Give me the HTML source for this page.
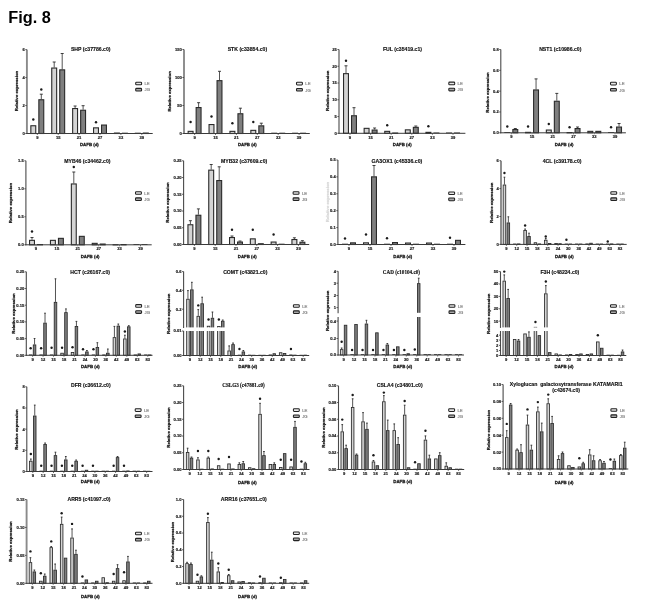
<!DOCTYPE html>
<html><head><meta charset="utf-8"><style>
html,body{margin:0;padding:0;background:#fff;}
body{width:658px;height:606px;overflow:hidden;position:relative;}
svg{position:absolute;left:0;top:0;}

</style></head><body>
<svg width="658" height="606" viewBox="0 0 658 606" style='filter:grayscale(1);font-family:"Liberation Sans", sans-serif'>
<rect width="658" height="606" fill="#fff"/>
<text x="8.3" y="23" font-size="16.3" font-weight="bold" fill="#000">Fig. 8</text>
<rect x="30.85" y="125.75" width="4.9" height="7.75" fill="#d4d4d4" stroke="#2a2a2a" stroke-width="1.1"/>
<line x1="41.3" y1="99.2" x2="41.3" y2="94.2" stroke="#2a2a2a" stroke-width="0.8"/>
<line x1="39.8" y1="94.2" x2="42.8" y2="94.2" stroke="#2a2a2a" stroke-width="0.9"/>
<rect x="38.85" y="99.75" width="4.9" height="33.75" fill="#7f7f7f" stroke="#2a2a2a" stroke-width="1.1"/>
<line x1="54.2" y1="67.5" x2="54.2" y2="62" stroke="#2a2a2a" stroke-width="0.8"/>
<line x1="52.7" y1="62" x2="55.7" y2="62" stroke="#2a2a2a" stroke-width="0.9"/>
<rect x="51.75" y="68.05" width="4.9" height="65.45" fill="#d4d4d4" stroke="#2a2a2a" stroke-width="1.1"/>
<line x1="62.2" y1="69.3" x2="62.2" y2="53.5" stroke="#2a2a2a" stroke-width="0.8"/>
<line x1="60.7" y1="53.5" x2="63.7" y2="53.5" stroke="#2a2a2a" stroke-width="0.9"/>
<rect x="59.75" y="69.85" width="4.9" height="63.65" fill="#7f7f7f" stroke="#2a2a2a" stroke-width="1.1"/>
<line x1="75.1" y1="108" x2="75.1" y2="106" stroke="#2a2a2a" stroke-width="0.8"/>
<line x1="73.6" y1="106" x2="76.6" y2="106" stroke="#2a2a2a" stroke-width="0.9"/>
<rect x="72.65" y="108.55" width="4.9" height="24.95" fill="#d4d4d4" stroke="#2a2a2a" stroke-width="1.1"/>
<line x1="83.1" y1="109.7" x2="83.1" y2="105.7" stroke="#2a2a2a" stroke-width="0.8"/>
<line x1="81.6" y1="105.7" x2="84.6" y2="105.7" stroke="#2a2a2a" stroke-width="0.9"/>
<rect x="80.65" y="110.25" width="4.9" height="23.25" fill="#7f7f7f" stroke="#2a2a2a" stroke-width="1.1"/>
<rect x="93.55" y="127.85" width="4.9" height="5.65" fill="#d4d4d4" stroke="#2a2a2a" stroke-width="1.1"/>
<rect x="101.55" y="125.05" width="4.9" height="8.45" fill="#7f7f7f" stroke="#2a2a2a" stroke-width="1.1"/>
<rect x="114.45" y="133.05" width="4.9" height="0.45" fill="#d4d4d4" stroke="#2a2a2a" stroke-width="1.1"/>
<rect x="121.9" y="132.7" width="6" height="0.8" fill="#2a2a2a"/>
<rect x="134.8" y="132.7" width="6" height="0.8" fill="#2a2a2a"/>
<rect x="143.35" y="133.05" width="4.9" height="0.45" fill="#7f7f7f" stroke="#2a2a2a" stroke-width="1.1"/>
<circle cx="33.3" cy="119.5" r="1.2" fill="#1a1a1a"/>
<circle cx="41.3" cy="89.5" r="1.2" fill="#1a1a1a"/>
<circle cx="96" cy="122.3" r="1.2" fill="#1a1a1a"/>
<line x1="26.9" y1="49.6" x2="26.9" y2="134" stroke="#8a8a8a" stroke-width="1.9"/>
<line x1="26.4" y1="133.5" x2="152.7" y2="133.5" stroke="#3a3a3a" stroke-width="1"/>
<line x1="25.3" y1="49.6" x2="26.9" y2="49.6" stroke="#3a3a3a" stroke-width="0.8"/>
<text x="24.8" y="51.05" text-anchor="end" font-size="4.1" font-weight="bold" fill="#222" stroke="#222" stroke-width="0.18">6</text>
<line x1="25.3" y1="77.57" x2="26.9" y2="77.57" stroke="#3a3a3a" stroke-width="0.8"/>
<text x="24.8" y="79.02" text-anchor="end" font-size="4.1" font-weight="bold" fill="#222" stroke="#222" stroke-width="0.18">4</text>
<line x1="25.3" y1="105.53" x2="26.9" y2="105.53" stroke="#3a3a3a" stroke-width="0.8"/>
<text x="24.8" y="106.98" text-anchor="end" font-size="4.1" font-weight="bold" fill="#222" stroke="#222" stroke-width="0.18">2</text>
<line x1="25.3" y1="133.5" x2="26.9" y2="133.5" stroke="#3a3a3a" stroke-width="0.8"/>
<text x="24.8" y="134.95" text-anchor="end" font-size="4.1" font-weight="bold" fill="#222" stroke="#222" stroke-width="0.18">0</text>
<line x1="37.3" y1="133.5" x2="37.3" y2="135" stroke="#3a3a3a" stroke-width="0.7"/>
<text x="37.3" y="139.1" text-anchor="middle" font-size="4.1" font-weight="bold" fill="#222" stroke="#222" stroke-width="0.18">9</text>
<line x1="58.2" y1="133.5" x2="58.2" y2="135" stroke="#3a3a3a" stroke-width="0.7"/>
<text x="58.2" y="139.1" text-anchor="middle" font-size="4.1" font-weight="bold" fill="#222" stroke="#222" stroke-width="0.18">15</text>
<line x1="79.1" y1="133.5" x2="79.1" y2="135" stroke="#3a3a3a" stroke-width="0.7"/>
<text x="79.1" y="139.1" text-anchor="middle" font-size="4.1" font-weight="bold" fill="#222" stroke="#222" stroke-width="0.18">21</text>
<line x1="100" y1="133.5" x2="100" y2="135" stroke="#3a3a3a" stroke-width="0.7"/>
<text x="100" y="139.1" text-anchor="middle" font-size="4.1" font-weight="bold" fill="#222" stroke="#222" stroke-width="0.18">27</text>
<line x1="120.9" y1="133.5" x2="120.9" y2="135" stroke="#3a3a3a" stroke-width="0.7"/>
<text x="120.9" y="139.1" text-anchor="middle" font-size="4.1" font-weight="bold" fill="#222" stroke="#222" stroke-width="0.18">33</text>
<line x1="141.8" y1="133.5" x2="141.8" y2="135" stroke="#3a3a3a" stroke-width="0.7"/>
<text x="141.8" y="139.1" text-anchor="middle" font-size="4.1" font-weight="bold" fill="#222" stroke="#222" stroke-width="0.18">39</text>
<text x="90.7" y="51.2" text-anchor="middle" style='font-family:"Liberation Sans", sans-serif;white-space:pre' font-size="5.15" font-weight="bold" fill="#111" stroke="#111" stroke-width="0.14">SHP (c37786.c0)</text>
<rect x="135.7" y="82.2" width="5.9" height="2.6" rx="0.8" fill="#e6e6e6" stroke="#222" stroke-width="1.05"/>
<text x="144.5" y="85.3" font-size="4.25" fill="#8c8c8c" stroke="#8c8c8c" stroke-width="0.2">LE</text>
<rect x="135.7" y="88.35" width="5.9" height="2.6" rx="0.8" fill="#a8a8a8" stroke="#222" stroke-width="1.05"/>
<text x="144.5" y="91.45" font-size="4.25" fill="#8c8c8c" stroke="#8c8c8c" stroke-width="0.2">JG</text>
<text x="0" y="0" transform="translate(18.1,91) rotate(-90)" text-anchor="middle" font-size="4.3" font-weight="bold" fill="#1a1a1a" stroke="#1a1a1a" stroke-width="0.26">Relative expression</text>
<text x="89.4" y="145.8" text-anchor="middle" font-size="4.35" font-weight="bold" fill="#1a1a1a" stroke="#1a1a1a" stroke-width="0.26">DAFB (d)</text>
<rect x="188.15" y="131.35" width="4.9" height="2.15" fill="#d4d4d4" stroke="#2a2a2a" stroke-width="1.1"/>
<line x1="198.6" y1="107" x2="198.6" y2="102.7" stroke="#2a2a2a" stroke-width="0.8"/>
<line x1="197.1" y1="102.7" x2="200.1" y2="102.7" stroke="#2a2a2a" stroke-width="0.9"/>
<rect x="196.15" y="107.55" width="4.9" height="25.95" fill="#7f7f7f" stroke="#2a2a2a" stroke-width="1.1"/>
<rect x="209.05" y="124.55" width="4.9" height="8.95" fill="#d4d4d4" stroke="#2a2a2a" stroke-width="1.1"/>
<line x1="219.5" y1="80.1" x2="219.5" y2="71.3" stroke="#2a2a2a" stroke-width="0.8"/>
<line x1="218" y1="71.3" x2="221" y2="71.3" stroke="#2a2a2a" stroke-width="0.9"/>
<rect x="217.05" y="80.65" width="4.9" height="52.85" fill="#7f7f7f" stroke="#2a2a2a" stroke-width="1.1"/>
<rect x="229.95" y="131.35" width="4.9" height="2.15" fill="#d4d4d4" stroke="#2a2a2a" stroke-width="1.1"/>
<line x1="240.4" y1="113.2" x2="240.4" y2="108.2" stroke="#2a2a2a" stroke-width="0.8"/>
<line x1="238.9" y1="108.2" x2="241.9" y2="108.2" stroke="#2a2a2a" stroke-width="0.9"/>
<rect x="237.95" y="113.75" width="4.9" height="19.75" fill="#7f7f7f" stroke="#2a2a2a" stroke-width="1.1"/>
<rect x="250.85" y="130.35" width="4.9" height="3.15" fill="#d4d4d4" stroke="#2a2a2a" stroke-width="1.1"/>
<line x1="261.3" y1="125.3" x2="261.3" y2="123.2" stroke="#2a2a2a" stroke-width="0.8"/>
<line x1="259.8" y1="123.2" x2="262.8" y2="123.2" stroke="#2a2a2a" stroke-width="0.9"/>
<rect x="258.85" y="125.85" width="4.9" height="7.65" fill="#7f7f7f" stroke="#2a2a2a" stroke-width="1.1"/>
<rect x="271.2" y="132.7" width="6" height="0.8" fill="#2a2a2a"/>
<rect x="279.2" y="132.7" width="6" height="0.8" fill="#2a2a2a"/>
<rect x="292.1" y="132.7" width="6" height="0.8" fill="#2a2a2a"/>
<rect x="300.1" y="132.7" width="6" height="0.8" fill="#2a2a2a"/>
<circle cx="190.6" cy="122" r="1.2" fill="#1a1a1a"/>
<circle cx="211.5" cy="116.5" r="1.2" fill="#1a1a1a"/>
<circle cx="232.4" cy="123.2" r="1.2" fill="#1a1a1a"/>
<circle cx="253.3" cy="122" r="1.2" fill="#1a1a1a"/>
<line x1="184" y1="49.5" x2="184" y2="134" stroke="#8a8a8a" stroke-width="1.9"/>
<line x1="183.5" y1="133.5" x2="309.8" y2="133.5" stroke="#3a3a3a" stroke-width="1"/>
<line x1="182.4" y1="49.5" x2="184" y2="49.5" stroke="#3a3a3a" stroke-width="0.8"/>
<text x="181.9" y="50.95" text-anchor="end" font-size="4.1" font-weight="bold" fill="#222" stroke="#222" stroke-width="0.18">150</text>
<line x1="182.4" y1="77.5" x2="184" y2="77.5" stroke="#3a3a3a" stroke-width="0.8"/>
<text x="181.9" y="78.95" text-anchor="end" font-size="4.1" font-weight="bold" fill="#222" stroke="#222" stroke-width="0.18">100</text>
<line x1="182.4" y1="105.5" x2="184" y2="105.5" stroke="#3a3a3a" stroke-width="0.8"/>
<text x="181.9" y="106.95" text-anchor="end" font-size="4.1" font-weight="bold" fill="#222" stroke="#222" stroke-width="0.18">50</text>
<line x1="182.4" y1="133.5" x2="184" y2="133.5" stroke="#3a3a3a" stroke-width="0.8"/>
<text x="181.9" y="134.95" text-anchor="end" font-size="4.1" font-weight="bold" fill="#222" stroke="#222" stroke-width="0.18">0</text>
<line x1="194.6" y1="133.5" x2="194.6" y2="135" stroke="#3a3a3a" stroke-width="0.7"/>
<text x="194.6" y="139.1" text-anchor="middle" font-size="4.1" font-weight="bold" fill="#222" stroke="#222" stroke-width="0.18">9</text>
<line x1="215.5" y1="133.5" x2="215.5" y2="135" stroke="#3a3a3a" stroke-width="0.7"/>
<text x="215.5" y="139.1" text-anchor="middle" font-size="4.1" font-weight="bold" fill="#222" stroke="#222" stroke-width="0.18">15</text>
<line x1="236.4" y1="133.5" x2="236.4" y2="135" stroke="#3a3a3a" stroke-width="0.7"/>
<text x="236.4" y="139.1" text-anchor="middle" font-size="4.1" font-weight="bold" fill="#222" stroke="#222" stroke-width="0.18">21</text>
<line x1="257.3" y1="133.5" x2="257.3" y2="135" stroke="#3a3a3a" stroke-width="0.7"/>
<text x="257.3" y="139.1" text-anchor="middle" font-size="4.1" font-weight="bold" fill="#222" stroke="#222" stroke-width="0.18">27</text>
<line x1="278.2" y1="133.5" x2="278.2" y2="135" stroke="#3a3a3a" stroke-width="0.7"/>
<text x="278.2" y="139.1" text-anchor="middle" font-size="4.1" font-weight="bold" fill="#222" stroke="#222" stroke-width="0.18">33</text>
<line x1="299.1" y1="133.5" x2="299.1" y2="135" stroke="#3a3a3a" stroke-width="0.7"/>
<text x="299.1" y="139.1" text-anchor="middle" font-size="4.1" font-weight="bold" fill="#222" stroke="#222" stroke-width="0.18">39</text>
<text x="247.4" y="51.2" text-anchor="middle" style='font-family:"Liberation Sans", sans-serif;white-space:pre' font-size="5.15" font-weight="bold" fill="#111" stroke="#111" stroke-width="0.14">STK (c33854.c0)</text>
<rect x="296.5" y="82.3" width="5.9" height="2.6" rx="0.8" fill="#e6e6e6" stroke="#222" stroke-width="1.05"/>
<text x="305.3" y="85.4" font-size="4.25" fill="#8c8c8c" stroke="#8c8c8c" stroke-width="0.2">LE</text>
<rect x="296.5" y="88.45" width="5.9" height="2.6" rx="0.8" fill="#a8a8a8" stroke="#222" stroke-width="1.05"/>
<text x="305.3" y="91.55" font-size="4.25" fill="#8c8c8c" stroke="#8c8c8c" stroke-width="0.2">JG</text>
<text x="0" y="0" transform="translate(170.6,91.4) rotate(-90)" text-anchor="middle" font-size="4.3" font-weight="bold" fill="#1a1a1a" stroke="#1a1a1a" stroke-width="0.26">Relative expression</text>
<text x="247.3" y="145.8" text-anchor="middle" font-size="4.35" font-weight="bold" fill="#1a1a1a" stroke="#1a1a1a" stroke-width="0.26">DAFB (d)</text>
<line x1="346" y1="73.1" x2="346" y2="65.8" stroke="#2a2a2a" stroke-width="0.8"/>
<line x1="344.5" y1="65.8" x2="347.5" y2="65.8" stroke="#2a2a2a" stroke-width="0.9"/>
<rect x="343.55" y="73.65" width="4.9" height="59.65" fill="#d4d4d4" stroke="#2a2a2a" stroke-width="1.1"/>
<line x1="354" y1="115.2" x2="354" y2="107.7" stroke="#2a2a2a" stroke-width="0.8"/>
<line x1="352.5" y1="107.7" x2="355.5" y2="107.7" stroke="#2a2a2a" stroke-width="0.9"/>
<rect x="351.55" y="115.75" width="4.9" height="17.55" fill="#7f7f7f" stroke="#2a2a2a" stroke-width="1.1"/>
<rect x="364.15" y="128.35" width="4.9" height="4.95" fill="#d4d4d4" stroke="#2a2a2a" stroke-width="1.1"/>
<line x1="374.6" y1="129.5" x2="374.6" y2="128" stroke="#2a2a2a" stroke-width="0.8"/>
<line x1="373.1" y1="128" x2="376.1" y2="128" stroke="#2a2a2a" stroke-width="0.9"/>
<rect x="372.15" y="130.05" width="4.9" height="3.25" fill="#7f7f7f" stroke="#2a2a2a" stroke-width="1.1"/>
<rect x="384.75" y="131.35" width="4.9" height="1.95" fill="#d4d4d4" stroke="#2a2a2a" stroke-width="1.1"/>
<rect x="392.75" y="133.05" width="4.9" height="0.25" fill="#7f7f7f" stroke="#2a2a2a" stroke-width="1.1"/>
<rect x="405.35" y="129.85" width="4.9" height="3.45" fill="#d4d4d4" stroke="#2a2a2a" stroke-width="1.1"/>
<line x1="415.8" y1="126.8" x2="415.8" y2="126" stroke="#2a2a2a" stroke-width="0.8"/>
<line x1="414.3" y1="126" x2="417.3" y2="126" stroke="#2a2a2a" stroke-width="0.9"/>
<rect x="413.35" y="127.35" width="4.9" height="5.95" fill="#7f7f7f" stroke="#2a2a2a" stroke-width="1.1"/>
<rect x="425.95" y="132.35" width="4.9" height="0.95" fill="#d4d4d4" stroke="#2a2a2a" stroke-width="1.1"/>
<rect x="433.4" y="132.5" width="6" height="0.8" fill="#2a2a2a"/>
<rect x="446" y="132.5" width="6" height="0.8" fill="#2a2a2a"/>
<rect x="454" y="132.5" width="6" height="0.8" fill="#2a2a2a"/>
<circle cx="346" cy="60.8" r="1.2" fill="#1a1a1a"/>
<circle cx="387.2" cy="125.3" r="1.2" fill="#1a1a1a"/>
<circle cx="428.4" cy="126.3" r="1.2" fill="#1a1a1a"/>
<line x1="339" y1="49.5" x2="339" y2="133.8" stroke="#4a4a4a" stroke-width="1.1"/>
<line x1="338.5" y1="133.3" x2="465.4" y2="133.3" stroke="#3a3a3a" stroke-width="1"/>
<line x1="337.4" y1="49.5" x2="339" y2="49.5" stroke="#3a3a3a" stroke-width="0.8"/>
<text x="336.9" y="50.95" text-anchor="end" font-size="4.1" font-weight="bold" fill="#222" stroke="#222" stroke-width="0.18">25</text>
<line x1="337.4" y1="66.26" x2="339" y2="66.26" stroke="#3a3a3a" stroke-width="0.8"/>
<text x="336.9" y="67.71" text-anchor="end" font-size="4.1" font-weight="bold" fill="#222" stroke="#222" stroke-width="0.18">20</text>
<line x1="337.4" y1="83.02" x2="339" y2="83.02" stroke="#3a3a3a" stroke-width="0.8"/>
<text x="336.9" y="84.47" text-anchor="end" font-size="4.1" font-weight="bold" fill="#222" stroke="#222" stroke-width="0.18">15</text>
<line x1="337.4" y1="99.78" x2="339" y2="99.78" stroke="#3a3a3a" stroke-width="0.8"/>
<text x="336.9" y="101.23" text-anchor="end" font-size="4.1" font-weight="bold" fill="#222" stroke="#222" stroke-width="0.18">10</text>
<line x1="337.4" y1="116.54" x2="339" y2="116.54" stroke="#3a3a3a" stroke-width="0.8"/>
<text x="336.9" y="117.99" text-anchor="end" font-size="4.1" font-weight="bold" fill="#222" stroke="#222" stroke-width="0.18">5</text>
<line x1="337.4" y1="133.3" x2="339" y2="133.3" stroke="#3a3a3a" stroke-width="0.8"/>
<text x="336.9" y="134.75" text-anchor="end" font-size="4.1" font-weight="bold" fill="#222" stroke="#222" stroke-width="0.18">0</text>
<line x1="350" y1="133.3" x2="350" y2="134.8" stroke="#3a3a3a" stroke-width="0.7"/>
<text x="350" y="138.9" text-anchor="middle" font-size="4.1" font-weight="bold" fill="#222" stroke="#222" stroke-width="0.18">9</text>
<line x1="370.6" y1="133.3" x2="370.6" y2="134.8" stroke="#3a3a3a" stroke-width="0.7"/>
<text x="370.6" y="138.9" text-anchor="middle" font-size="4.1" font-weight="bold" fill="#222" stroke="#222" stroke-width="0.18">15</text>
<line x1="391.2" y1="133.3" x2="391.2" y2="134.8" stroke="#3a3a3a" stroke-width="0.7"/>
<text x="391.2" y="138.9" text-anchor="middle" font-size="4.1" font-weight="bold" fill="#222" stroke="#222" stroke-width="0.18">21</text>
<line x1="411.8" y1="133.3" x2="411.8" y2="134.8" stroke="#3a3a3a" stroke-width="0.7"/>
<text x="411.8" y="138.9" text-anchor="middle" font-size="4.1" font-weight="bold" fill="#222" stroke="#222" stroke-width="0.18">27</text>
<line x1="432.4" y1="133.3" x2="432.4" y2="134.8" stroke="#3a3a3a" stroke-width="0.7"/>
<text x="432.4" y="138.9" text-anchor="middle" font-size="4.1" font-weight="bold" fill="#222" stroke="#222" stroke-width="0.18">33</text>
<line x1="453" y1="133.3" x2="453" y2="134.8" stroke="#3a3a3a" stroke-width="0.7"/>
<text x="453" y="138.9" text-anchor="middle" font-size="4.1" font-weight="bold" fill="#222" stroke="#222" stroke-width="0.18">39</text>
<text x="402.5" y="51.2" text-anchor="middle" style='font-family:"Liberation Sans", sans-serif;white-space:pre' font-size="5.15" font-weight="bold" fill="#111" stroke="#111" stroke-width="0.14">FUL (c35419.c1)</text>
<rect x="448.8" y="82.1" width="5.9" height="2.6" rx="0.8" fill="#e6e6e6" stroke="#222" stroke-width="1.05"/>
<text x="457.6" y="85.2" font-size="4.25" fill="#8c8c8c" stroke="#8c8c8c" stroke-width="0.2">LE</text>
<rect x="448.8" y="88.25" width="5.9" height="2.6" rx="0.8" fill="#a8a8a8" stroke="#222" stroke-width="1.05"/>
<text x="457.6" y="91.35" font-size="4.25" fill="#8c8c8c" stroke="#8c8c8c" stroke-width="0.2">JG</text>
<text x="0" y="0" transform="translate(328.8,90.7) rotate(-90)" text-anchor="middle" font-size="4.3" font-weight="bold" fill="#1a1a1a" stroke="#1a1a1a" stroke-width="0.26">Relative expression</text>
<text x="402.2" y="145.8" text-anchor="middle" font-size="4.35" font-weight="bold" fill="#1a1a1a" stroke="#1a1a1a" stroke-width="0.26">DAFB (d)</text>
<rect x="504.3" y="132" width="6" height="0.8" fill="#2a2a2a"/>
<line x1="515.3" y1="129" x2="515.3" y2="128.5" stroke="#2a2a2a" stroke-width="0.8"/>
<line x1="513.8" y1="128.5" x2="516.8" y2="128.5" stroke="#2a2a2a" stroke-width="0.9"/>
<rect x="512.85" y="129.55" width="4.9" height="3.25" fill="#7f7f7f" stroke="#2a2a2a" stroke-width="1.1"/>
<rect x="525.6" y="132.35" width="4.9" height="0.45" fill="#d4d4d4" stroke="#2a2a2a" stroke-width="1.1"/>
<line x1="536.05" y1="89.4" x2="536.05" y2="78.9" stroke="#2a2a2a" stroke-width="0.8"/>
<line x1="534.55" y1="78.9" x2="537.55" y2="78.9" stroke="#2a2a2a" stroke-width="0.9"/>
<rect x="533.6" y="89.95" width="4.9" height="42.85" fill="#7f7f7f" stroke="#2a2a2a" stroke-width="1.1"/>
<rect x="546.35" y="130.05" width="4.9" height="2.75" fill="#d4d4d4" stroke="#2a2a2a" stroke-width="1.1"/>
<line x1="556.8" y1="100.7" x2="556.8" y2="93.4" stroke="#2a2a2a" stroke-width="0.8"/>
<line x1="555.3" y1="93.4" x2="558.3" y2="93.4" stroke="#2a2a2a" stroke-width="0.9"/>
<rect x="554.35" y="101.25" width="4.9" height="31.55" fill="#7f7f7f" stroke="#2a2a2a" stroke-width="1.1"/>
<rect x="567.1" y="132.55" width="4.9" height="0.25" fill="#d4d4d4" stroke="#2a2a2a" stroke-width="1.1"/>
<line x1="577.55" y1="128" x2="577.55" y2="127" stroke="#2a2a2a" stroke-width="0.8"/>
<line x1="576.05" y1="127" x2="579.05" y2="127" stroke="#2a2a2a" stroke-width="0.9"/>
<rect x="575.1" y="128.55" width="4.9" height="4.25" fill="#7f7f7f" stroke="#2a2a2a" stroke-width="1.1"/>
<rect x="587.85" y="131.35" width="4.9" height="1.45" fill="#d4d4d4" stroke="#2a2a2a" stroke-width="1.1"/>
<rect x="595.85" y="131.35" width="4.9" height="1.45" fill="#7f7f7f" stroke="#2a2a2a" stroke-width="1.1"/>
<rect x="608.05" y="132" width="6" height="0.8" fill="#2a2a2a"/>
<line x1="619.05" y1="126.5" x2="619.05" y2="123.5" stroke="#2a2a2a" stroke-width="0.8"/>
<line x1="617.55" y1="123.5" x2="620.55" y2="123.5" stroke="#2a2a2a" stroke-width="0.9"/>
<rect x="616.6" y="127.05" width="4.9" height="5.75" fill="#7f7f7f" stroke="#2a2a2a" stroke-width="1.1"/>
<circle cx="507.3" cy="126.5" r="1.2" fill="#1a1a1a"/>
<circle cx="528.05" cy="126.5" r="1.2" fill="#1a1a1a"/>
<circle cx="548.8" cy="124" r="1.2" fill="#1a1a1a"/>
<circle cx="569.55" cy="127.3" r="1.2" fill="#1a1a1a"/>
<circle cx="611.05" cy="127.3" r="1.2" fill="#1a1a1a"/>
<line x1="500.8" y1="49.5" x2="500.8" y2="133.3" stroke="#4a4a4a" stroke-width="1.1"/>
<line x1="500.3" y1="132.8" x2="625.9" y2="132.8" stroke="#3a3a3a" stroke-width="1"/>
<line x1="499.2" y1="49.5" x2="500.8" y2="49.5" stroke="#3a3a3a" stroke-width="0.8"/>
<text x="498.7" y="50.95" text-anchor="end" font-size="4.1" font-weight="bold" fill="#222" stroke="#222" stroke-width="0.18">0.8</text>
<line x1="499.2" y1="70.33" x2="500.8" y2="70.33" stroke="#3a3a3a" stroke-width="0.8"/>
<text x="498.7" y="71.78" text-anchor="end" font-size="4.1" font-weight="bold" fill="#222" stroke="#222" stroke-width="0.18">0.6</text>
<line x1="499.2" y1="91.15" x2="500.8" y2="91.15" stroke="#3a3a3a" stroke-width="0.8"/>
<text x="498.7" y="92.6" text-anchor="end" font-size="4.1" font-weight="bold" fill="#222" stroke="#222" stroke-width="0.18">0.4</text>
<line x1="499.2" y1="111.98" x2="500.8" y2="111.98" stroke="#3a3a3a" stroke-width="0.8"/>
<text x="498.7" y="113.43" text-anchor="end" font-size="4.1" font-weight="bold" fill="#222" stroke="#222" stroke-width="0.18">0.2</text>
<line x1="499.2" y1="132.8" x2="500.8" y2="132.8" stroke="#3a3a3a" stroke-width="0.8"/>
<text x="498.7" y="134.25" text-anchor="end" font-size="4.1" font-weight="bold" fill="#222" stroke="#222" stroke-width="0.18">0.0</text>
<line x1="511.3" y1="132.8" x2="511.3" y2="134.3" stroke="#3a3a3a" stroke-width="0.7"/>
<text x="511.3" y="138.4" text-anchor="middle" font-size="4.1" font-weight="bold" fill="#222" stroke="#222" stroke-width="0.18">9</text>
<line x1="532.05" y1="132.8" x2="532.05" y2="134.3" stroke="#3a3a3a" stroke-width="0.7"/>
<text x="532.05" y="138.4" text-anchor="middle" font-size="4.1" font-weight="bold" fill="#222" stroke="#222" stroke-width="0.18">15</text>
<line x1="552.8" y1="132.8" x2="552.8" y2="134.3" stroke="#3a3a3a" stroke-width="0.7"/>
<text x="552.8" y="138.4" text-anchor="middle" font-size="4.1" font-weight="bold" fill="#222" stroke="#222" stroke-width="0.18">21</text>
<line x1="573.55" y1="132.8" x2="573.55" y2="134.3" stroke="#3a3a3a" stroke-width="0.7"/>
<text x="573.55" y="138.4" text-anchor="middle" font-size="4.1" font-weight="bold" fill="#222" stroke="#222" stroke-width="0.18">27</text>
<line x1="594.3" y1="132.8" x2="594.3" y2="134.3" stroke="#3a3a3a" stroke-width="0.7"/>
<text x="594.3" y="138.4" text-anchor="middle" font-size="4.1" font-weight="bold" fill="#222" stroke="#222" stroke-width="0.18">33</text>
<line x1="615.05" y1="132.8" x2="615.05" y2="134.3" stroke="#3a3a3a" stroke-width="0.7"/>
<text x="615.05" y="138.4" text-anchor="middle" font-size="4.1" font-weight="bold" fill="#222" stroke="#222" stroke-width="0.18">39</text>
<text x="560.3" y="51.2" text-anchor="middle" style='font-family:"Liberation Sans", sans-serif;white-space:pre' font-size="5.15" font-weight="bold" fill="#111" stroke="#111" stroke-width="0.14">NST1 (c10986.c0)</text>
<rect x="610.5" y="82.3" width="5.9" height="2.6" rx="0.8" fill="#e6e6e6" stroke="#222" stroke-width="1.05"/>
<text x="619.3" y="85.4" font-size="4.25" fill="#8c8c8c" stroke="#8c8c8c" stroke-width="0.2">LE</text>
<rect x="610.5" y="88.45" width="5.9" height="2.6" rx="0.8" fill="#a8a8a8" stroke="#222" stroke-width="1.05"/>
<text x="619.3" y="91.55" font-size="4.25" fill="#8c8c8c" stroke="#8c8c8c" stroke-width="0.2">JG</text>
<text x="0" y="0" transform="translate(489,92.5) rotate(-90)" text-anchor="middle" font-size="4.3" font-weight="bold" fill="#1a1a1a" stroke="#1a1a1a" stroke-width="0.26">Relative expression</text>
<text x="564.1" y="145.8" text-anchor="middle" font-size="4.35" font-weight="bold" fill="#1a1a1a" stroke="#1a1a1a" stroke-width="0.26">DAFB (d)</text>
<line x1="32" y1="239.8" x2="32" y2="237.5" stroke="#2a2a2a" stroke-width="0.8"/>
<line x1="30.5" y1="237.5" x2="33.5" y2="237.5" stroke="#2a2a2a" stroke-width="0.9"/>
<rect x="29.55" y="240.35" width="4.9" height="4.45" fill="#d4d4d4" stroke="#2a2a2a" stroke-width="1.1"/>
<rect x="37.55" y="244.55" width="4.9" height="0.25" fill="#7f7f7f" stroke="#2a2a2a" stroke-width="1.1"/>
<rect x="50.45" y="240.35" width="4.9" height="4.45" fill="#d4d4d4" stroke="#2a2a2a" stroke-width="1.1"/>
<rect x="58.45" y="238.35" width="4.9" height="6.45" fill="#7f7f7f" stroke="#2a2a2a" stroke-width="1.1"/>
<line x1="73.8" y1="183.4" x2="73.8" y2="172" stroke="#2a2a2a" stroke-width="0.8"/>
<line x1="72.3" y1="172" x2="75.3" y2="172" stroke="#2a2a2a" stroke-width="0.9"/>
<rect x="71.35" y="183.95" width="4.9" height="60.85" fill="#d4d4d4" stroke="#2a2a2a" stroke-width="1.1"/>
<rect x="79.35" y="236.35" width="4.9" height="8.45" fill="#7f7f7f" stroke="#2a2a2a" stroke-width="1.1"/>
<rect x="92.25" y="243.35" width="4.9" height="1.45" fill="#d4d4d4" stroke="#2a2a2a" stroke-width="1.1"/>
<rect x="100.25" y="244.05" width="4.9" height="0.75" fill="#7f7f7f" stroke="#2a2a2a" stroke-width="1.1"/>
<rect x="113.15" y="244.75" width="4.9" height="0.1" fill="#d4d4d4" stroke="#2a2a2a" stroke-width="1.1"/>
<rect x="121.15" y="244.55" width="4.9" height="0.25" fill="#7f7f7f" stroke="#2a2a2a" stroke-width="1.1"/>
<rect x="133.5" y="244" width="6" height="0.8" fill="#2a2a2a"/>
<rect x="141.5" y="244" width="6" height="0.8" fill="#2a2a2a"/>
<circle cx="32" cy="231.5" r="1.2" fill="#1a1a1a"/>
<circle cx="73.8" cy="167" r="1.2" fill="#1a1a1a"/>
<line x1="25.9" y1="160.8" x2="25.9" y2="245.3" stroke="#4a4a4a" stroke-width="1.1"/>
<line x1="25.4" y1="244.8" x2="151.7" y2="244.8" stroke="#3a3a3a" stroke-width="1"/>
<line x1="24.3" y1="160.8" x2="25.9" y2="160.8" stroke="#3a3a3a" stroke-width="0.8"/>
<text x="23.8" y="162.25" text-anchor="end" font-size="4.1" font-weight="bold" fill="#222" stroke="#222" stroke-width="0.18">1.5</text>
<line x1="24.3" y1="188.8" x2="25.9" y2="188.8" stroke="#3a3a3a" stroke-width="0.8"/>
<text x="23.8" y="190.25" text-anchor="end" font-size="4.1" font-weight="bold" fill="#222" stroke="#222" stroke-width="0.18">1.0</text>
<line x1="24.3" y1="216.8" x2="25.9" y2="216.8" stroke="#3a3a3a" stroke-width="0.8"/>
<text x="23.8" y="218.25" text-anchor="end" font-size="4.1" font-weight="bold" fill="#222" stroke="#222" stroke-width="0.18">0.5</text>
<line x1="24.3" y1="244.8" x2="25.9" y2="244.8" stroke="#3a3a3a" stroke-width="0.8"/>
<text x="23.8" y="246.25" text-anchor="end" font-size="4.1" font-weight="bold" fill="#222" stroke="#222" stroke-width="0.18">0.0</text>
<line x1="36" y1="244.8" x2="36" y2="246.3" stroke="#3a3a3a" stroke-width="0.7"/>
<text x="36" y="250.4" text-anchor="middle" font-size="4.1" font-weight="bold" fill="#222" stroke="#222" stroke-width="0.18">9</text>
<line x1="56.9" y1="244.8" x2="56.9" y2="246.3" stroke="#3a3a3a" stroke-width="0.7"/>
<text x="56.9" y="250.4" text-anchor="middle" font-size="4.1" font-weight="bold" fill="#222" stroke="#222" stroke-width="0.18">15</text>
<line x1="77.8" y1="244.8" x2="77.8" y2="246.3" stroke="#3a3a3a" stroke-width="0.7"/>
<text x="77.8" y="250.4" text-anchor="middle" font-size="4.1" font-weight="bold" fill="#222" stroke="#222" stroke-width="0.18">21</text>
<line x1="98.7" y1="244.8" x2="98.7" y2="246.3" stroke="#3a3a3a" stroke-width="0.7"/>
<text x="98.7" y="250.4" text-anchor="middle" font-size="4.1" font-weight="bold" fill="#222" stroke="#222" stroke-width="0.18">27</text>
<line x1="119.6" y1="244.8" x2="119.6" y2="246.3" stroke="#3a3a3a" stroke-width="0.7"/>
<text x="119.6" y="250.4" text-anchor="middle" font-size="4.1" font-weight="bold" fill="#222" stroke="#222" stroke-width="0.18">33</text>
<line x1="140.5" y1="244.8" x2="140.5" y2="246.3" stroke="#3a3a3a" stroke-width="0.7"/>
<text x="140.5" y="250.4" text-anchor="middle" font-size="4.1" font-weight="bold" fill="#222" stroke="#222" stroke-width="0.18">39</text>
<text x="87.4" y="162.5" text-anchor="middle" style='font-family:"Liberation Sans", sans-serif;white-space:pre' font-size="5.15" font-weight="bold" fill="#111" stroke="#111" stroke-width="0.14">MYB46 (c34462.c0)</text>
<rect x="135.5" y="191.7" width="5.9" height="2.6" rx="0.8" fill="#e6e6e6" stroke="#222" stroke-width="1.05"/>
<text x="144.3" y="194.8" font-size="4.25" fill="#8c8c8c" stroke="#8c8c8c" stroke-width="0.2">LE</text>
<rect x="135.5" y="197.85" width="5.9" height="2.6" rx="0.8" fill="#a8a8a8" stroke="#222" stroke-width="1.05"/>
<text x="144.3" y="200.95" font-size="4.25" fill="#8c8c8c" stroke="#8c8c8c" stroke-width="0.2">JG</text>
<text x="0" y="0" transform="translate(11.55,203.1) rotate(-90)" text-anchor="middle" font-size="4.3" font-weight="bold" fill="#1a1a1a" stroke="#1a1a1a" stroke-width="0.26">Relative expression</text>
<text x="90.1" y="258.3" text-anchor="middle" font-size="4.35" font-weight="bold" fill="#1a1a1a" stroke="#1a1a1a" stroke-width="0.26">DAFB (d)</text>
<line x1="190.4" y1="224.2" x2="190.4" y2="220.7" stroke="#2a2a2a" stroke-width="0.8"/>
<line x1="188.9" y1="220.7" x2="191.9" y2="220.7" stroke="#2a2a2a" stroke-width="0.9"/>
<rect x="187.95" y="224.75" width="4.9" height="19.75" fill="#d4d4d4" stroke="#2a2a2a" stroke-width="1.1"/>
<line x1="198.4" y1="214.7" x2="198.4" y2="208.9" stroke="#2a2a2a" stroke-width="0.8"/>
<line x1="196.9" y1="208.9" x2="199.9" y2="208.9" stroke="#2a2a2a" stroke-width="0.9"/>
<rect x="195.95" y="215.25" width="4.9" height="29.25" fill="#7f7f7f" stroke="#2a2a2a" stroke-width="1.1"/>
<line x1="211.2" y1="169.6" x2="211.2" y2="164.5" stroke="#2a2a2a" stroke-width="0.8"/>
<line x1="209.7" y1="164.5" x2="212.7" y2="164.5" stroke="#2a2a2a" stroke-width="0.9"/>
<rect x="208.75" y="170.15" width="4.9" height="74.35" fill="#d4d4d4" stroke="#2a2a2a" stroke-width="1.1"/>
<line x1="219.2" y1="180" x2="219.2" y2="166.8" stroke="#2a2a2a" stroke-width="0.8"/>
<line x1="217.7" y1="166.8" x2="220.7" y2="166.8" stroke="#2a2a2a" stroke-width="0.9"/>
<rect x="216.75" y="180.55" width="4.9" height="63.95" fill="#7f7f7f" stroke="#2a2a2a" stroke-width="1.1"/>
<line x1="232" y1="237" x2="232" y2="236" stroke="#2a2a2a" stroke-width="0.8"/>
<line x1="230.5" y1="236" x2="233.5" y2="236" stroke="#2a2a2a" stroke-width="0.9"/>
<rect x="229.55" y="237.55" width="4.9" height="6.95" fill="#d4d4d4" stroke="#2a2a2a" stroke-width="1.1"/>
<line x1="240" y1="241.5" x2="240" y2="241" stroke="#2a2a2a" stroke-width="0.8"/>
<line x1="238.5" y1="241" x2="241.5" y2="241" stroke="#2a2a2a" stroke-width="0.9"/>
<rect x="237.55" y="242.05" width="4.9" height="2.45" fill="#7f7f7f" stroke="#2a2a2a" stroke-width="1.1"/>
<rect x="250.35" y="238.85" width="4.9" height="5.65" fill="#d4d4d4" stroke="#2a2a2a" stroke-width="1.1"/>
<rect x="258.35" y="243.75" width="4.9" height="0.75" fill="#7f7f7f" stroke="#2a2a2a" stroke-width="1.1"/>
<rect x="271.15" y="242.05" width="4.9" height="2.45" fill="#d4d4d4" stroke="#2a2a2a" stroke-width="1.1"/>
<rect x="278.6" y="243.7" width="6" height="0.8" fill="#2a2a2a"/>
<line x1="294.4" y1="239" x2="294.4" y2="237.8" stroke="#2a2a2a" stroke-width="0.8"/>
<line x1="292.9" y1="237.8" x2="295.9" y2="237.8" stroke="#2a2a2a" stroke-width="0.9"/>
<rect x="291.95" y="239.55" width="4.9" height="4.95" fill="#d4d4d4" stroke="#2a2a2a" stroke-width="1.1"/>
<line x1="302.4" y1="241.7" x2="302.4" y2="240.7" stroke="#2a2a2a" stroke-width="0.8"/>
<line x1="300.9" y1="240.7" x2="303.9" y2="240.7" stroke="#2a2a2a" stroke-width="0.9"/>
<rect x="299.95" y="242.25" width="4.9" height="2.25" fill="#7f7f7f" stroke="#2a2a2a" stroke-width="1.1"/>
<circle cx="232" cy="229.7" r="1.2" fill="#1a1a1a"/>
<circle cx="252.8" cy="229.7" r="1.2" fill="#1a1a1a"/>
<circle cx="273.6" cy="234.5" r="1.2" fill="#1a1a1a"/>
<line x1="183.6" y1="160.8" x2="183.6" y2="245" stroke="#4a4a4a" stroke-width="1.1"/>
<line x1="183.1" y1="244.5" x2="309.2" y2="244.5" stroke="#3a3a3a" stroke-width="1"/>
<line x1="182" y1="160.8" x2="183.6" y2="160.8" stroke="#3a3a3a" stroke-width="0.8"/>
<text x="181.5" y="162.25" text-anchor="end" font-size="4.1" font-weight="bold" fill="#222" stroke="#222" stroke-width="0.18">0.25</text>
<line x1="182" y1="177.54" x2="183.6" y2="177.54" stroke="#3a3a3a" stroke-width="0.8"/>
<text x="181.5" y="178.99" text-anchor="end" font-size="4.1" font-weight="bold" fill="#222" stroke="#222" stroke-width="0.18">0.20</text>
<line x1="182" y1="194.28" x2="183.6" y2="194.28" stroke="#3a3a3a" stroke-width="0.8"/>
<text x="181.5" y="195.73" text-anchor="end" font-size="4.1" font-weight="bold" fill="#222" stroke="#222" stroke-width="0.18">0.15</text>
<line x1="182" y1="211.02" x2="183.6" y2="211.02" stroke="#3a3a3a" stroke-width="0.8"/>
<text x="181.5" y="212.47" text-anchor="end" font-size="4.1" font-weight="bold" fill="#222" stroke="#222" stroke-width="0.18">0.10</text>
<line x1="182" y1="227.76" x2="183.6" y2="227.76" stroke="#3a3a3a" stroke-width="0.8"/>
<text x="181.5" y="229.21" text-anchor="end" font-size="4.1" font-weight="bold" fill="#222" stroke="#222" stroke-width="0.18">0.05</text>
<line x1="182" y1="244.5" x2="183.6" y2="244.5" stroke="#3a3a3a" stroke-width="0.8"/>
<text x="181.5" y="245.95" text-anchor="end" font-size="4.1" font-weight="bold" fill="#222" stroke="#222" stroke-width="0.18">0.00</text>
<line x1="194.4" y1="244.5" x2="194.4" y2="246" stroke="#3a3a3a" stroke-width="0.7"/>
<text x="194.4" y="250.1" text-anchor="middle" font-size="4.1" font-weight="bold" fill="#222" stroke="#222" stroke-width="0.18">9</text>
<line x1="215.2" y1="244.5" x2="215.2" y2="246" stroke="#3a3a3a" stroke-width="0.7"/>
<text x="215.2" y="250.1" text-anchor="middle" font-size="4.1" font-weight="bold" fill="#222" stroke="#222" stroke-width="0.18">15</text>
<line x1="236" y1="244.5" x2="236" y2="246" stroke="#3a3a3a" stroke-width="0.7"/>
<text x="236" y="250.1" text-anchor="middle" font-size="4.1" font-weight="bold" fill="#222" stroke="#222" stroke-width="0.18">21</text>
<line x1="256.8" y1="244.5" x2="256.8" y2="246" stroke="#3a3a3a" stroke-width="0.7"/>
<text x="256.8" y="250.1" text-anchor="middle" font-size="4.1" font-weight="bold" fill="#222" stroke="#222" stroke-width="0.18">27</text>
<line x1="277.6" y1="244.5" x2="277.6" y2="246" stroke="#3a3a3a" stroke-width="0.7"/>
<text x="277.6" y="250.1" text-anchor="middle" font-size="4.1" font-weight="bold" fill="#222" stroke="#222" stroke-width="0.18">33</text>
<line x1="298.4" y1="244.5" x2="298.4" y2="246" stroke="#3a3a3a" stroke-width="0.7"/>
<text x="298.4" y="250.1" text-anchor="middle" font-size="4.1" font-weight="bold" fill="#222" stroke="#222" stroke-width="0.18">39</text>
<text x="244.1" y="162.5" text-anchor="middle" style='font-family:"Liberation Sans", sans-serif;white-space:pre' font-size="5.15" font-weight="bold" fill="#111" stroke="#111" stroke-width="0.14">MYB32 (c37609.c0)</text>
<rect x="293.1" y="191.7" width="5.9" height="2.6" rx="0.8" fill="#e6e6e6" stroke="#222" stroke-width="1.05"/>
<text x="301.9" y="194.8" font-size="4.25" fill="#8c8c8c" stroke="#8c8c8c" stroke-width="0.2">LE</text>
<rect x="293.1" y="197.85" width="5.9" height="2.6" rx="0.8" fill="#a8a8a8" stroke="#222" stroke-width="1.05"/>
<text x="301.9" y="200.95" font-size="4.25" fill="#8c8c8c" stroke="#8c8c8c" stroke-width="0.2">JG</text>
<text x="0" y="0" transform="translate(168.8,202.5) rotate(-90)" text-anchor="middle" font-size="4.3" font-weight="bold" fill="#1a1a1a" stroke="#1a1a1a" stroke-width="0.26">Relative expression</text>
<text x="247.2" y="258.3" text-anchor="middle" font-size="4.35" font-weight="bold" fill="#1a1a1a" stroke="#1a1a1a" stroke-width="0.26">DAFB (d)</text>
<rect x="342" y="243.7" width="6" height="0.8" fill="#2a2a2a"/>
<rect x="350.55" y="242.85" width="4.9" height="1.65" fill="#7f7f7f" stroke="#2a2a2a" stroke-width="1.1"/>
<rect x="363.55" y="242.85" width="4.9" height="1.65" fill="#d4d4d4" stroke="#2a2a2a" stroke-width="1.1"/>
<line x1="374" y1="176.3" x2="374" y2="165.5" stroke="#2a2a2a" stroke-width="0.8"/>
<line x1="372.5" y1="165.5" x2="375.5" y2="165.5" stroke="#2a2a2a" stroke-width="0.9"/>
<rect x="371.55" y="176.85" width="4.9" height="67.65" fill="#7f7f7f" stroke="#2a2a2a" stroke-width="1.1"/>
<rect x="384" y="243.7" width="6" height="0.8" fill="#2a2a2a"/>
<rect x="392.55" y="242.55" width="4.9" height="1.95" fill="#7f7f7f" stroke="#2a2a2a" stroke-width="1.1"/>
<rect x="405.55" y="243.05" width="4.9" height="1.45" fill="#d4d4d4" stroke="#2a2a2a" stroke-width="1.1"/>
<rect x="413" y="243.7" width="6" height="0.8" fill="#2a2a2a"/>
<rect x="426.55" y="243.05" width="4.9" height="1.45" fill="#d4d4d4" stroke="#2a2a2a" stroke-width="1.1"/>
<rect x="434" y="243.7" width="6" height="0.8" fill="#2a2a2a"/>
<rect x="447" y="243.7" width="6" height="0.8" fill="#2a2a2a"/>
<rect x="455.55" y="240.35" width="4.9" height="4.15" fill="#7f7f7f" stroke="#2a2a2a" stroke-width="1.1"/>
<circle cx="345" cy="238.5" r="1.2" fill="#1a1a1a"/>
<circle cx="366" cy="234.5" r="1.2" fill="#1a1a1a"/>
<circle cx="387" cy="238.2" r="1.2" fill="#1a1a1a"/>
<circle cx="450" cy="237.8" r="1.2" fill="#1a1a1a"/>
<line x1="337.9" y1="160" x2="337.9" y2="245" stroke="#4a4a4a" stroke-width="1.1"/>
<line x1="337.4" y1="244.5" x2="465.4" y2="244.5" stroke="#3a3a3a" stroke-width="1"/>
<line x1="336.3" y1="160" x2="337.9" y2="160" stroke="#3a3a3a" stroke-width="0.8"/>
<text x="335.8" y="161.45" text-anchor="end" font-size="4.1" font-weight="bold" fill="#222" stroke="#222" stroke-width="0.18">0.5</text>
<line x1="336.3" y1="176.9" x2="337.9" y2="176.9" stroke="#3a3a3a" stroke-width="0.8"/>
<text x="335.8" y="178.35" text-anchor="end" font-size="4.1" font-weight="bold" fill="#222" stroke="#222" stroke-width="0.18">0.4</text>
<line x1="336.3" y1="193.8" x2="337.9" y2="193.8" stroke="#3a3a3a" stroke-width="0.8"/>
<text x="335.8" y="195.25" text-anchor="end" font-size="4.1" font-weight="bold" fill="#222" stroke="#222" stroke-width="0.18">0.3</text>
<line x1="336.3" y1="210.7" x2="337.9" y2="210.7" stroke="#3a3a3a" stroke-width="0.8"/>
<text x="335.8" y="212.15" text-anchor="end" font-size="4.1" font-weight="bold" fill="#222" stroke="#222" stroke-width="0.18">0.2</text>
<line x1="336.3" y1="227.6" x2="337.9" y2="227.6" stroke="#3a3a3a" stroke-width="0.8"/>
<text x="335.8" y="229.05" text-anchor="end" font-size="4.1" font-weight="bold" fill="#222" stroke="#222" stroke-width="0.18">0.1</text>
<line x1="336.3" y1="244.5" x2="337.9" y2="244.5" stroke="#3a3a3a" stroke-width="0.8"/>
<text x="335.8" y="245.95" text-anchor="end" font-size="4.1" font-weight="bold" fill="#222" stroke="#222" stroke-width="0.18">0.0</text>
<line x1="349" y1="244.5" x2="349" y2="246" stroke="#3a3a3a" stroke-width="0.7"/>
<text x="349" y="250.1" text-anchor="middle" font-size="4.1" font-weight="bold" fill="#222" stroke="#222" stroke-width="0.18">9</text>
<line x1="370" y1="244.5" x2="370" y2="246" stroke="#3a3a3a" stroke-width="0.7"/>
<text x="370" y="250.1" text-anchor="middle" font-size="4.1" font-weight="bold" fill="#222" stroke="#222" stroke-width="0.18">15</text>
<line x1="391" y1="244.5" x2="391" y2="246" stroke="#3a3a3a" stroke-width="0.7"/>
<text x="391" y="250.1" text-anchor="middle" font-size="4.1" font-weight="bold" fill="#222" stroke="#222" stroke-width="0.18">21</text>
<line x1="412" y1="244.5" x2="412" y2="246" stroke="#3a3a3a" stroke-width="0.7"/>
<text x="412" y="250.1" text-anchor="middle" font-size="4.1" font-weight="bold" fill="#222" stroke="#222" stroke-width="0.18">27</text>
<line x1="433" y1="244.5" x2="433" y2="246" stroke="#3a3a3a" stroke-width="0.7"/>
<text x="433" y="250.1" text-anchor="middle" font-size="4.1" font-weight="bold" fill="#222" stroke="#222" stroke-width="0.18">33</text>
<line x1="454" y1="244.5" x2="454" y2="246" stroke="#3a3a3a" stroke-width="0.7"/>
<text x="454" y="250.1" text-anchor="middle" font-size="4.1" font-weight="bold" fill="#222" stroke="#222" stroke-width="0.18">39</text>
<text x="396.9" y="163" text-anchor="middle" style='font-family:"Liberation Sans", sans-serif;white-space:pre' font-size="5.24" font-weight="bold" fill="#111" stroke="#111" stroke-width="0.14">GA3OX1 (c45336.c0)</text>
<rect x="448.7" y="191.9" width="5.9" height="2.6" rx="0.8" fill="#e6e6e6" stroke="#222" stroke-width="1.05"/>
<text x="457.5" y="195" font-size="4.25" fill="#8c8c8c" stroke="#8c8c8c" stroke-width="0.2">LE</text>
<rect x="448.7" y="198.05" width="5.9" height="2.6" rx="0.8" fill="#a8a8a8" stroke="#222" stroke-width="1.05"/>
<text x="457.5" y="201.15" font-size="4.25" fill="#8c8c8c" stroke="#8c8c8c" stroke-width="0.2">JG</text>
<text x="0" y="0" transform="translate(328.8,202) rotate(-90)" text-anchor="middle" font-size="4.3" font-weight="bold" fill="#d8d8d8" stroke="#d8d8d8" stroke-width="0.26">Relative expression</text>
<text x="402.7" y="257.6" text-anchor="middle" font-size="4.35" font-weight="bold" fill="#1a1a1a" stroke="#1a1a1a" stroke-width="0.26">DAFB (d)</text>
<line x1="504.45" y1="184.6" x2="504.45" y2="177.2" stroke="#2a2a2a" stroke-width="0.8"/>
<line x1="503.6" y1="177.2" x2="505.3" y2="177.2" stroke="#2a2a2a" stroke-width="0.9"/>
<rect x="503.18" y="185.03" width="2.55" height="59.38" fill="#d4d4d4" stroke="#2a2a2a" stroke-width="0.85"/>
<line x1="508.35" y1="222.5" x2="508.35" y2="216.8" stroke="#2a2a2a" stroke-width="0.8"/>
<line x1="507.5" y1="216.8" x2="509.2" y2="216.8" stroke="#2a2a2a" stroke-width="0.9"/>
<rect x="507.07" y="222.93" width="2.55" height="21.48" fill="#7f7f7f" stroke="#2a2a2a" stroke-width="0.85"/>
<rect x="513.08" y="243.6" width="3.4" height="0.8" fill="#2a2a2a"/>
<rect x="517.4" y="243.93" width="2.55" height="0.48" fill="#7f7f7f" stroke="#2a2a2a" stroke-width="0.85"/>
<line x1="525.11" y1="230" x2="525.11" y2="229" stroke="#2a2a2a" stroke-width="0.8"/>
<line x1="524.26" y1="229" x2="525.96" y2="229" stroke="#2a2a2a" stroke-width="0.9"/>
<rect x="523.83" y="230.43" width="2.55" height="13.98" fill="#d4d4d4" stroke="#2a2a2a" stroke-width="0.85"/>
<line x1="529.01" y1="236" x2="529.01" y2="233.2" stroke="#2a2a2a" stroke-width="0.8"/>
<line x1="528.16" y1="233.2" x2="529.86" y2="233.2" stroke="#2a2a2a" stroke-width="0.9"/>
<rect x="527.73" y="236.43" width="2.55" height="7.98" fill="#7f7f7f" stroke="#2a2a2a" stroke-width="0.85"/>
<rect x="534.16" y="242.73" width="2.55" height="1.67" fill="#d4d4d4" stroke="#2a2a2a" stroke-width="0.85"/>
<rect x="538.06" y="243.93" width="2.55" height="0.48" fill="#7f7f7f" stroke="#2a2a2a" stroke-width="0.85"/>
<line x1="545.77" y1="239.8" x2="545.77" y2="238.5" stroke="#2a2a2a" stroke-width="0.8"/>
<line x1="544.92" y1="238.5" x2="546.62" y2="238.5" stroke="#2a2a2a" stroke-width="0.9"/>
<rect x="544.5" y="240.23" width="2.55" height="4.17" fill="#d4d4d4" stroke="#2a2a2a" stroke-width="0.85"/>
<rect x="548.39" y="243.43" width="2.55" height="0.98" fill="#7f7f7f" stroke="#2a2a2a" stroke-width="0.85"/>
<rect x="554.82" y="243.43" width="2.55" height="0.98" fill="#d4d4d4" stroke="#2a2a2a" stroke-width="0.85"/>
<rect x="558.72" y="243.73" width="2.55" height="0.67" fill="#7f7f7f" stroke="#2a2a2a" stroke-width="0.85"/>
<rect x="564.73" y="243.6" width="3.4" height="0.8" fill="#2a2a2a"/>
<rect x="568.63" y="243.6" width="3.4" height="0.8" fill="#2a2a2a"/>
<rect x="575.06" y="243.6" width="3.4" height="0.8" fill="#2a2a2a"/>
<rect x="578.96" y="243.6" width="3.4" height="0.8" fill="#2a2a2a"/>
<rect x="585.81" y="243.93" width="2.55" height="0.48" fill="#d4d4d4" stroke="#2a2a2a" stroke-width="0.85"/>
<rect x="589.71" y="243.23" width="2.55" height="1.17" fill="#7f7f7f" stroke="#2a2a2a" stroke-width="0.85"/>
<rect x="595.72" y="243.6" width="3.4" height="0.8" fill="#2a2a2a"/>
<rect x="599.62" y="243.6" width="3.4" height="0.8" fill="#2a2a2a"/>
<rect x="606.05" y="243.6" width="3.4" height="0.8" fill="#2a2a2a"/>
<rect x="610.37" y="243.93" width="2.55" height="0.48" fill="#7f7f7f" stroke="#2a2a2a" stroke-width="0.85"/>
<rect x="616.38" y="243.6" width="3.4" height="0.8" fill="#2a2a2a"/>
<rect x="620.28" y="243.6" width="3.4" height="0.8" fill="#2a2a2a"/>
<circle cx="504.45" cy="173" r="1.2" fill="#1a1a1a"/>
<circle cx="525.11" cy="225.5" r="1.2" fill="#1a1a1a"/>
<circle cx="545.77" cy="236.5" r="1.2" fill="#1a1a1a"/>
<circle cx="566.43" cy="239.8" r="1.2" fill="#1a1a1a"/>
<circle cx="607.75" cy="241.5" r="1.2" fill="#1a1a1a"/>
<line x1="501" y1="160.7" x2="501" y2="244.9" stroke="#8a8a8a" stroke-width="1.9"/>
<line x1="500.5" y1="244.4" x2="626.7" y2="244.4" stroke="#3a3a3a" stroke-width="1"/>
<line x1="499.4" y1="160.7" x2="501" y2="160.7" stroke="#3a3a3a" stroke-width="0.8"/>
<text x="498.9" y="162.15" text-anchor="end" font-size="4.1" font-weight="bold" fill="#222" stroke="#222" stroke-width="0.18">6</text>
<line x1="499.4" y1="188.6" x2="501" y2="188.6" stroke="#3a3a3a" stroke-width="0.8"/>
<text x="498.9" y="190.05" text-anchor="end" font-size="4.1" font-weight="bold" fill="#222" stroke="#222" stroke-width="0.18">4</text>
<line x1="499.4" y1="216.5" x2="501" y2="216.5" stroke="#3a3a3a" stroke-width="0.8"/>
<text x="498.9" y="217.95" text-anchor="end" font-size="4.1" font-weight="bold" fill="#222" stroke="#222" stroke-width="0.18">2</text>
<line x1="499.4" y1="244.4" x2="501" y2="244.4" stroke="#3a3a3a" stroke-width="0.8"/>
<text x="498.9" y="245.85" text-anchor="end" font-size="4.1" font-weight="bold" fill="#222" stroke="#222" stroke-width="0.18">0</text>
<line x1="506.4" y1="244.4" x2="506.4" y2="245.9" stroke="#3a3a3a" stroke-width="0.7"/>
<text x="506.4" y="250" text-anchor="middle" font-size="4.1" font-weight="bold" fill="#222" stroke="#222" stroke-width="0.18">9</text>
<line x1="516.73" y1="244.4" x2="516.73" y2="245.9" stroke="#3a3a3a" stroke-width="0.7"/>
<text x="516.73" y="250" text-anchor="middle" font-size="4.1" font-weight="bold" fill="#222" stroke="#222" stroke-width="0.18">12</text>
<line x1="527.06" y1="244.4" x2="527.06" y2="245.9" stroke="#3a3a3a" stroke-width="0.7"/>
<text x="527.06" y="250" text-anchor="middle" font-size="4.1" font-weight="bold" fill="#222" stroke="#222" stroke-width="0.18">15</text>
<line x1="537.39" y1="244.4" x2="537.39" y2="245.9" stroke="#3a3a3a" stroke-width="0.7"/>
<text x="537.39" y="250" text-anchor="middle" font-size="4.1" font-weight="bold" fill="#222" stroke="#222" stroke-width="0.18">18</text>
<line x1="547.72" y1="244.4" x2="547.72" y2="245.9" stroke="#3a3a3a" stroke-width="0.7"/>
<text x="547.72" y="250" text-anchor="middle" font-size="4.1" font-weight="bold" fill="#222" stroke="#222" stroke-width="0.18">21</text>
<line x1="558.05" y1="244.4" x2="558.05" y2="245.9" stroke="#3a3a3a" stroke-width="0.7"/>
<text x="558.05" y="250" text-anchor="middle" font-size="4.1" font-weight="bold" fill="#222" stroke="#222" stroke-width="0.18">24</text>
<line x1="568.38" y1="244.4" x2="568.38" y2="245.9" stroke="#3a3a3a" stroke-width="0.7"/>
<text x="568.38" y="250" text-anchor="middle" font-size="4.1" font-weight="bold" fill="#222" stroke="#222" stroke-width="0.18">30</text>
<line x1="578.71" y1="244.4" x2="578.71" y2="245.9" stroke="#3a3a3a" stroke-width="0.7"/>
<text x="578.71" y="250" text-anchor="middle" font-size="4.1" font-weight="bold" fill="#222" stroke="#222" stroke-width="0.18">36</text>
<line x1="589.04" y1="244.4" x2="589.04" y2="245.9" stroke="#3a3a3a" stroke-width="0.7"/>
<text x="589.04" y="250" text-anchor="middle" font-size="4.1" font-weight="bold" fill="#222" stroke="#222" stroke-width="0.18">42</text>
<line x1="599.37" y1="244.4" x2="599.37" y2="245.9" stroke="#3a3a3a" stroke-width="0.7"/>
<text x="599.37" y="250" text-anchor="middle" font-size="4.1" font-weight="bold" fill="#222" stroke="#222" stroke-width="0.18">49</text>
<line x1="609.7" y1="244.4" x2="609.7" y2="245.9" stroke="#3a3a3a" stroke-width="0.7"/>
<text x="609.7" y="250" text-anchor="middle" font-size="4.1" font-weight="bold" fill="#222" stroke="#222" stroke-width="0.18">63</text>
<line x1="620.03" y1="244.4" x2="620.03" y2="245.9" stroke="#3a3a3a" stroke-width="0.7"/>
<text x="620.03" y="250" text-anchor="middle" font-size="4.1" font-weight="bold" fill="#222" stroke="#222" stroke-width="0.18">83</text>
<text x="562.1" y="162.5" text-anchor="middle" style='font-family:"Liberation Sans", sans-serif;white-space:pre' font-size="5.15" font-weight="bold" fill="#111" stroke="#111" stroke-width="0.14">4CL (c39178.c0)</text>
<rect x="610.8" y="191.7" width="5.9" height="2.6" rx="0.8" fill="#e6e6e6" stroke="#222" stroke-width="1.05"/>
<text x="619.6" y="194.8" font-size="4.25" fill="#8c8c8c" stroke="#8c8c8c" stroke-width="0.2">LE</text>
<rect x="610.8" y="197.85" width="5.9" height="2.6" rx="0.8" fill="#a8a8a8" stroke="#222" stroke-width="1.05"/>
<text x="619.6" y="200.95" font-size="4.25" fill="#8c8c8c" stroke="#8c8c8c" stroke-width="0.2">JG</text>
<text x="0" y="0" transform="translate(493.2,202.7) rotate(-90)" text-anchor="middle" font-size="4.3" font-weight="bold" fill="#1a1a1a" stroke="#1a1a1a" stroke-width="0.26">Relative expression</text>
<text x="564.3" y="257.6" text-anchor="middle" font-size="4.35" font-weight="bold" fill="#1a1a1a" stroke="#1a1a1a" stroke-width="0.26">DAFB (d)</text>
<rect x="28.95" y="354.5" width="3.4" height="0.8" fill="#2a2a2a"/>
<line x1="34.55" y1="344.5" x2="34.55" y2="338.5" stroke="#2a2a2a" stroke-width="0.8"/>
<line x1="33.7" y1="338.5" x2="35.4" y2="338.5" stroke="#2a2a2a" stroke-width="0.9"/>
<rect x="33.27" y="344.93" width="2.55" height="10.38" fill="#7f7f7f" stroke="#2a2a2a" stroke-width="0.85"/>
<rect x="39.42" y="354.5" width="3.4" height="0.8" fill="#2a2a2a"/>
<line x1="45.02" y1="322.7" x2="45.02" y2="313.2" stroke="#2a2a2a" stroke-width="0.8"/>
<line x1="44.17" y1="313.2" x2="45.87" y2="313.2" stroke="#2a2a2a" stroke-width="0.9"/>
<rect x="43.74" y="323.12" width="2.55" height="32.18" fill="#7f7f7f" stroke="#2a2a2a" stroke-width="0.85"/>
<rect x="49.89" y="354.5" width="3.4" height="0.8" fill="#2a2a2a"/>
<line x1="55.49" y1="301.9" x2="55.49" y2="278.8" stroke="#2a2a2a" stroke-width="0.8"/>
<line x1="54.64" y1="278.8" x2="56.34" y2="278.8" stroke="#2a2a2a" stroke-width="0.9"/>
<rect x="54.22" y="302.32" width="2.55" height="52.98" fill="#7f7f7f" stroke="#2a2a2a" stroke-width="0.85"/>
<rect x="60.79" y="353.23" width="2.55" height="2.08" fill="#d4d4d4" stroke="#2a2a2a" stroke-width="0.85"/>
<line x1="65.96" y1="312.2" x2="65.96" y2="308.9" stroke="#2a2a2a" stroke-width="0.8"/>
<line x1="65.11" y1="308.9" x2="66.81" y2="308.9" stroke="#2a2a2a" stroke-width="0.9"/>
<rect x="64.69" y="312.62" width="2.55" height="42.68" fill="#7f7f7f" stroke="#2a2a2a" stroke-width="0.85"/>
<rect x="71.25" y="352.43" width="2.55" height="2.88" fill="#d4d4d4" stroke="#2a2a2a" stroke-width="0.85"/>
<line x1="76.43" y1="326" x2="76.43" y2="321.4" stroke="#2a2a2a" stroke-width="0.8"/>
<line x1="75.58" y1="321.4" x2="77.28" y2="321.4" stroke="#2a2a2a" stroke-width="0.9"/>
<rect x="75.16" y="326.43" width="2.55" height="28.88" fill="#7f7f7f" stroke="#2a2a2a" stroke-width="0.85"/>
<rect x="81.3" y="354.5" width="3.4" height="0.8" fill="#2a2a2a"/>
<line x1="86.9" y1="351.5" x2="86.9" y2="350.5" stroke="#2a2a2a" stroke-width="0.8"/>
<line x1="86.05" y1="350.5" x2="87.75" y2="350.5" stroke="#2a2a2a" stroke-width="0.9"/>
<rect x="85.62" y="351.93" width="2.55" height="3.38" fill="#7f7f7f" stroke="#2a2a2a" stroke-width="0.85"/>
<rect x="91.77" y="354.5" width="3.4" height="0.8" fill="#2a2a2a"/>
<line x1="97.37" y1="347" x2="97.37" y2="342.7" stroke="#2a2a2a" stroke-width="0.8"/>
<line x1="96.52" y1="342.7" x2="98.22" y2="342.7" stroke="#2a2a2a" stroke-width="0.9"/>
<rect x="96.1" y="347.43" width="2.55" height="7.88" fill="#7f7f7f" stroke="#2a2a2a" stroke-width="0.85"/>
<rect x="102.67" y="354.93" width="2.55" height="0.38" fill="#d4d4d4" stroke="#2a2a2a" stroke-width="0.85"/>
<line x1="107.84" y1="352.8" x2="107.84" y2="349" stroke="#2a2a2a" stroke-width="0.8"/>
<line x1="106.99" y1="349" x2="108.69" y2="349" stroke="#2a2a2a" stroke-width="0.9"/>
<rect x="106.57" y="353.23" width="2.55" height="2.08" fill="#7f7f7f" stroke="#2a2a2a" stroke-width="0.85"/>
<line x1="114.41" y1="337.2" x2="114.41" y2="326.4" stroke="#2a2a2a" stroke-width="0.8"/>
<line x1="113.56" y1="326.4" x2="115.26" y2="326.4" stroke="#2a2a2a" stroke-width="0.9"/>
<rect x="113.14" y="337.62" width="2.55" height="17.68" fill="#d4d4d4" stroke="#2a2a2a" stroke-width="0.85"/>
<line x1="118.31" y1="325.7" x2="118.31" y2="324" stroke="#2a2a2a" stroke-width="0.8"/>
<line x1="117.46" y1="324" x2="119.16" y2="324" stroke="#2a2a2a" stroke-width="0.9"/>
<rect x="117.04" y="326.12" width="2.55" height="29.18" fill="#7f7f7f" stroke="#2a2a2a" stroke-width="0.85"/>
<line x1="124.88" y1="338.5" x2="124.88" y2="335.2" stroke="#2a2a2a" stroke-width="0.8"/>
<line x1="124.03" y1="335.2" x2="125.73" y2="335.2" stroke="#2a2a2a" stroke-width="0.9"/>
<rect x="123.61" y="338.93" width="2.55" height="16.38" fill="#d4d4d4" stroke="#2a2a2a" stroke-width="0.85"/>
<line x1="128.78" y1="326.4" x2="128.78" y2="325.7" stroke="#2a2a2a" stroke-width="0.8"/>
<line x1="127.93" y1="325.7" x2="129.63" y2="325.7" stroke="#2a2a2a" stroke-width="0.9"/>
<rect x="127.51" y="326.82" width="2.55" height="28.48" fill="#7f7f7f" stroke="#2a2a2a" stroke-width="0.85"/>
<rect x="134.08" y="354.93" width="2.55" height="0.38" fill="#d4d4d4" stroke="#2a2a2a" stroke-width="0.85"/>
<rect x="137.98" y="353.93" width="2.55" height="1.38" fill="#7f7f7f" stroke="#2a2a2a" stroke-width="0.85"/>
<rect x="144.12" y="354.5" width="3.4" height="0.8" fill="#2a2a2a"/>
<rect x="148.45" y="354.93" width="2.55" height="0.38" fill="#7f7f7f" stroke="#2a2a2a" stroke-width="0.85"/>
<circle cx="30.65" cy="348.3" r="1.2" fill="#1a1a1a"/>
<circle cx="41.12" cy="348.3" r="1.2" fill="#1a1a1a"/>
<circle cx="51.59" cy="347.8" r="1.2" fill="#1a1a1a"/>
<circle cx="62.06" cy="347.8" r="1.2" fill="#1a1a1a"/>
<circle cx="72.53" cy="347.3" r="1.2" fill="#1a1a1a"/>
<circle cx="83" cy="349.3" r="1.2" fill="#1a1a1a"/>
<circle cx="93.47" cy="349.3" r="1.2" fill="#1a1a1a"/>
<circle cx="124.88" cy="331.5" r="1.2" fill="#1a1a1a"/>
<line x1="26.3" y1="271.8" x2="26.3" y2="355.8" stroke="#4a4a4a" stroke-width="1.1"/>
<line x1="25.8" y1="355.3" x2="152.5" y2="355.3" stroke="#3a3a3a" stroke-width="1"/>
<line x1="24.7" y1="271.8" x2="26.3" y2="271.8" stroke="#3a3a3a" stroke-width="0.8"/>
<text x="24.2" y="273.25" text-anchor="end" font-size="4.1" font-weight="bold" fill="#222" stroke="#222" stroke-width="0.18">0.25</text>
<line x1="24.7" y1="288.5" x2="26.3" y2="288.5" stroke="#3a3a3a" stroke-width="0.8"/>
<text x="24.2" y="289.95" text-anchor="end" font-size="4.1" font-weight="bold" fill="#222" stroke="#222" stroke-width="0.18">0.20</text>
<line x1="24.7" y1="305.2" x2="26.3" y2="305.2" stroke="#3a3a3a" stroke-width="0.8"/>
<text x="24.2" y="306.65" text-anchor="end" font-size="4.1" font-weight="bold" fill="#222" stroke="#222" stroke-width="0.18">0.15</text>
<line x1="24.7" y1="321.9" x2="26.3" y2="321.9" stroke="#3a3a3a" stroke-width="0.8"/>
<text x="24.2" y="323.35" text-anchor="end" font-size="4.1" font-weight="bold" fill="#222" stroke="#222" stroke-width="0.18">0.10</text>
<line x1="24.7" y1="338.6" x2="26.3" y2="338.6" stroke="#3a3a3a" stroke-width="0.8"/>
<text x="24.2" y="340.05" text-anchor="end" font-size="4.1" font-weight="bold" fill="#222" stroke="#222" stroke-width="0.18">0.05</text>
<line x1="24.7" y1="355.3" x2="26.3" y2="355.3" stroke="#3a3a3a" stroke-width="0.8"/>
<text x="24.2" y="356.75" text-anchor="end" font-size="4.1" font-weight="bold" fill="#222" stroke="#222" stroke-width="0.18">0.00</text>
<line x1="32.6" y1="355.3" x2="32.6" y2="356.8" stroke="#3a3a3a" stroke-width="0.7"/>
<text x="32.6" y="360.9" text-anchor="middle" font-size="4.1" font-weight="bold" fill="#222" stroke="#222" stroke-width="0.18">9</text>
<line x1="43.07" y1="355.3" x2="43.07" y2="356.8" stroke="#3a3a3a" stroke-width="0.7"/>
<text x="43.07" y="360.9" text-anchor="middle" font-size="4.1" font-weight="bold" fill="#222" stroke="#222" stroke-width="0.18">12</text>
<line x1="53.54" y1="355.3" x2="53.54" y2="356.8" stroke="#3a3a3a" stroke-width="0.7"/>
<text x="53.54" y="360.9" text-anchor="middle" font-size="4.1" font-weight="bold" fill="#222" stroke="#222" stroke-width="0.18">15</text>
<line x1="64.01" y1="355.3" x2="64.01" y2="356.8" stroke="#3a3a3a" stroke-width="0.7"/>
<text x="64.01" y="360.9" text-anchor="middle" font-size="4.1" font-weight="bold" fill="#222" stroke="#222" stroke-width="0.18">18</text>
<line x1="74.48" y1="355.3" x2="74.48" y2="356.8" stroke="#3a3a3a" stroke-width="0.7"/>
<text x="74.48" y="360.9" text-anchor="middle" font-size="4.1" font-weight="bold" fill="#222" stroke="#222" stroke-width="0.18">21</text>
<line x1="84.95" y1="355.3" x2="84.95" y2="356.8" stroke="#3a3a3a" stroke-width="0.7"/>
<text x="84.95" y="360.9" text-anchor="middle" font-size="4.1" font-weight="bold" fill="#222" stroke="#222" stroke-width="0.18">24</text>
<line x1="95.42" y1="355.3" x2="95.42" y2="356.8" stroke="#3a3a3a" stroke-width="0.7"/>
<text x="95.42" y="360.9" text-anchor="middle" font-size="4.1" font-weight="bold" fill="#222" stroke="#222" stroke-width="0.18">30</text>
<line x1="105.89" y1="355.3" x2="105.89" y2="356.8" stroke="#3a3a3a" stroke-width="0.7"/>
<text x="105.89" y="360.9" text-anchor="middle" font-size="4.1" font-weight="bold" fill="#222" stroke="#222" stroke-width="0.18">36</text>
<line x1="116.36" y1="355.3" x2="116.36" y2="356.8" stroke="#3a3a3a" stroke-width="0.7"/>
<text x="116.36" y="360.9" text-anchor="middle" font-size="4.1" font-weight="bold" fill="#222" stroke="#222" stroke-width="0.18">42</text>
<line x1="126.83" y1="355.3" x2="126.83" y2="356.8" stroke="#3a3a3a" stroke-width="0.7"/>
<text x="126.83" y="360.9" text-anchor="middle" font-size="4.1" font-weight="bold" fill="#222" stroke="#222" stroke-width="0.18">49</text>
<line x1="137.3" y1="355.3" x2="137.3" y2="356.8" stroke="#3a3a3a" stroke-width="0.7"/>
<text x="137.3" y="360.9" text-anchor="middle" font-size="4.1" font-weight="bold" fill="#222" stroke="#222" stroke-width="0.18">63</text>
<line x1="147.77" y1="355.3" x2="147.77" y2="356.8" stroke="#3a3a3a" stroke-width="0.7"/>
<text x="147.77" y="360.9" text-anchor="middle" font-size="4.1" font-weight="bold" fill="#222" stroke="#222" stroke-width="0.18">83</text>
<text x="90.2" y="273.5" text-anchor="middle" style='font-family:"Liberation Sans", sans-serif;white-space:pre' font-size="5.15" font-weight="bold" fill="#111" stroke="#111" stroke-width="0.14">HCT (c26167.c0)</text>
<rect x="135.7" y="304.6" width="5.9" height="2.6" rx="0.8" fill="#e6e6e6" stroke="#222" stroke-width="1.05"/>
<text x="144.5" y="307.7" font-size="4.25" fill="#8c8c8c" stroke="#8c8c8c" stroke-width="0.2">LE</text>
<rect x="135.7" y="310.75" width="5.9" height="2.6" rx="0.8" fill="#a8a8a8" stroke="#222" stroke-width="1.05"/>
<text x="144.5" y="313.85" font-size="4.25" fill="#8c8c8c" stroke="#8c8c8c" stroke-width="0.2">JG</text>
<text x="0" y="0" transform="translate(14.95,313.5) rotate(-90)" text-anchor="middle" font-size="4.3" font-weight="bold" fill="#1a1a1a" stroke="#1a1a1a" stroke-width="0.26">Relative expression</text>
<text x="90.4" y="367.6" text-anchor="middle" font-size="4.35" font-weight="bold" fill="#1a1a1a" stroke="#1a1a1a" stroke-width="0.26">DAFB (d)</text>
<line x1="187.95" y1="298.8" x2="187.95" y2="290.6" stroke="#2a2a2a" stroke-width="0.8"/>
<line x1="187.1" y1="290.6" x2="188.8" y2="290.6" stroke="#2a2a2a" stroke-width="0.9"/>
<rect x="186.68" y="299.23" width="2.55" height="56.27" fill="#d4d4d4" stroke="#2a2a2a" stroke-width="0.85"/>
<line x1="191.85" y1="289.4" x2="191.85" y2="282.3" stroke="#2a2a2a" stroke-width="0.8"/>
<line x1="191" y1="282.3" x2="192.7" y2="282.3" stroke="#2a2a2a" stroke-width="0.9"/>
<rect x="190.58" y="289.82" width="2.55" height="65.68" fill="#7f7f7f" stroke="#2a2a2a" stroke-width="0.85"/>
<line x1="198.25" y1="315.9" x2="198.25" y2="309.6" stroke="#2a2a2a" stroke-width="0.8"/>
<line x1="197.4" y1="309.6" x2="199.1" y2="309.6" stroke="#2a2a2a" stroke-width="0.9"/>
<rect x="196.98" y="316.32" width="2.55" height="39.18" fill="#d4d4d4" stroke="#2a2a2a" stroke-width="0.85"/>
<line x1="202.15" y1="303.3" x2="202.15" y2="297.2" stroke="#2a2a2a" stroke-width="0.8"/>
<line x1="201.3" y1="297.2" x2="203" y2="297.2" stroke="#2a2a2a" stroke-width="0.9"/>
<rect x="200.88" y="303.73" width="2.55" height="51.77" fill="#7f7f7f" stroke="#2a2a2a" stroke-width="0.85"/>
<rect x="207.28" y="326.23" width="2.55" height="29.27" fill="#d4d4d4" stroke="#2a2a2a" stroke-width="0.85"/>
<line x1="212.45" y1="317.8" x2="212.45" y2="312" stroke="#2a2a2a" stroke-width="0.8"/>
<line x1="211.6" y1="312" x2="213.3" y2="312" stroke="#2a2a2a" stroke-width="0.9"/>
<rect x="211.18" y="318.23" width="2.55" height="37.27" fill="#7f7f7f" stroke="#2a2a2a" stroke-width="0.85"/>
<rect x="217.58" y="326.43" width="2.55" height="29.07" fill="#d4d4d4" stroke="#2a2a2a" stroke-width="0.85"/>
<line x1="222.75" y1="320.8" x2="222.75" y2="320" stroke="#2a2a2a" stroke-width="0.8"/>
<line x1="221.9" y1="320" x2="223.6" y2="320" stroke="#2a2a2a" stroke-width="0.9"/>
<rect x="221.48" y="321.23" width="2.55" height="34.27" fill="#7f7f7f" stroke="#2a2a2a" stroke-width="0.85"/>
<line x1="229.15" y1="350.5" x2="229.15" y2="345.9" stroke="#2a2a2a" stroke-width="0.8"/>
<line x1="228.3" y1="345.9" x2="230" y2="345.9" stroke="#2a2a2a" stroke-width="0.9"/>
<rect x="227.88" y="350.93" width="2.55" height="4.58" fill="#d4d4d4" stroke="#2a2a2a" stroke-width="0.85"/>
<line x1="233.05" y1="344.2" x2="233.05" y2="343" stroke="#2a2a2a" stroke-width="0.8"/>
<line x1="232.2" y1="343" x2="233.9" y2="343" stroke="#2a2a2a" stroke-width="0.9"/>
<rect x="231.78" y="344.62" width="2.55" height="10.88" fill="#7f7f7f" stroke="#2a2a2a" stroke-width="0.85"/>
<rect x="237.75" y="354.7" width="3.4" height="0.8" fill="#2a2a2a"/>
<line x1="243.35" y1="351.5" x2="243.35" y2="350.5" stroke="#2a2a2a" stroke-width="0.8"/>
<line x1="242.5" y1="350.5" x2="244.2" y2="350.5" stroke="#2a2a2a" stroke-width="0.9"/>
<rect x="242.08" y="351.93" width="2.55" height="3.58" fill="#7f7f7f" stroke="#2a2a2a" stroke-width="0.85"/>
<rect x="248.05" y="354.7" width="3.4" height="0.8" fill="#2a2a2a"/>
<rect x="252.38" y="355.23" width="2.55" height="0.27" fill="#7f7f7f" stroke="#2a2a2a" stroke-width="0.85"/>
<rect x="258.78" y="355.23" width="2.55" height="0.27" fill="#d4d4d4" stroke="#2a2a2a" stroke-width="0.85"/>
<rect x="262.68" y="355.23" width="2.55" height="0.27" fill="#7f7f7f" stroke="#2a2a2a" stroke-width="0.85"/>
<rect x="269.08" y="354.93" width="2.55" height="0.57" fill="#d4d4d4" stroke="#2a2a2a" stroke-width="0.85"/>
<rect x="272.98" y="353.73" width="2.55" height="1.77" fill="#7f7f7f" stroke="#2a2a2a" stroke-width="0.85"/>
<rect x="279.38" y="352.73" width="2.55" height="2.77" fill="#d4d4d4" stroke="#2a2a2a" stroke-width="0.85"/>
<rect x="283.28" y="353.43" width="2.55" height="2.08" fill="#7f7f7f" stroke="#2a2a2a" stroke-width="0.85"/>
<rect x="289.68" y="354.93" width="2.55" height="0.57" fill="#d4d4d4" stroke="#2a2a2a" stroke-width="0.85"/>
<rect x="293.15" y="354.7" width="3.4" height="0.8" fill="#2a2a2a"/>
<rect x="299.98" y="355.23" width="2.55" height="0.27" fill="#d4d4d4" stroke="#2a2a2a" stroke-width="0.85"/>
<rect x="303.45" y="354.7" width="3.4" height="0.8" fill="#2a2a2a"/>
<circle cx="198.25" cy="305.4" r="1.2" fill="#1a1a1a"/>
<circle cx="208.55" cy="319.5" r="1.2" fill="#1a1a1a"/>
<circle cx="218.85" cy="319.5" r="1.2" fill="#1a1a1a"/>
<circle cx="239.45" cy="349" r="1.2" fill="#1a1a1a"/>
<circle cx="290.95" cy="349" r="1.2" fill="#1a1a1a"/>
<rect x="180.6" y="327.4" width="59.4" height="3.6" fill="#fff"/>
<line x1="183.6" y1="271.6" x2="183.6" y2="327.9" stroke="#4a4a4a" stroke-width="1.1"/>
<line x1="183.6" y1="331" x2="183.6" y2="356" stroke="#4a4a4a" stroke-width="1.1"/>
<line x1="183.1" y1="355.5" x2="309.2" y2="355.5" stroke="#3a3a3a" stroke-width="1"/>
<line x1="182" y1="271.6" x2="183.6" y2="271.6" stroke="#3a3a3a" stroke-width="0.8"/>
<text x="181.5" y="273.05" text-anchor="end" font-size="4.1" font-weight="bold" fill="#222" stroke="#222" stroke-width="0.18">0.6</text>
<line x1="182" y1="290.3" x2="183.6" y2="290.3" stroke="#3a3a3a" stroke-width="0.8"/>
<text x="181.5" y="291.75" text-anchor="end" font-size="4.1" font-weight="bold" fill="#222" stroke="#222" stroke-width="0.18">0.4</text>
<line x1="182" y1="309.2" x2="183.6" y2="309.2" stroke="#3a3a3a" stroke-width="0.8"/>
<text x="181.5" y="310.65" text-anchor="end" font-size="4.1" font-weight="bold" fill="#222" stroke="#222" stroke-width="0.18">0.2</text>
<line x1="182" y1="331" x2="183.6" y2="331" stroke="#3a3a3a" stroke-width="0.8"/>
<text x="181.5" y="332.45" text-anchor="end" font-size="4.1" font-weight="bold" fill="#222" stroke="#222" stroke-width="0.18">0.01</text>
<line x1="182" y1="355.5" x2="183.6" y2="355.5" stroke="#3a3a3a" stroke-width="0.8"/>
<text x="181.5" y="356.95" text-anchor="end" font-size="4.1" font-weight="bold" fill="#222" stroke="#222" stroke-width="0.18">0.00</text>
<line x1="189.9" y1="355.5" x2="189.9" y2="357" stroke="#3a3a3a" stroke-width="0.7"/>
<text x="189.9" y="361.1" text-anchor="middle" font-size="4.1" font-weight="bold" fill="#222" stroke="#222" stroke-width="0.18">9</text>
<line x1="200.2" y1="355.5" x2="200.2" y2="357" stroke="#3a3a3a" stroke-width="0.7"/>
<text x="200.2" y="361.1" text-anchor="middle" font-size="4.1" font-weight="bold" fill="#222" stroke="#222" stroke-width="0.18">12</text>
<line x1="210.5" y1="355.5" x2="210.5" y2="357" stroke="#3a3a3a" stroke-width="0.7"/>
<text x="210.5" y="361.1" text-anchor="middle" font-size="4.1" font-weight="bold" fill="#222" stroke="#222" stroke-width="0.18">15</text>
<line x1="220.8" y1="355.5" x2="220.8" y2="357" stroke="#3a3a3a" stroke-width="0.7"/>
<text x="220.8" y="361.1" text-anchor="middle" font-size="4.1" font-weight="bold" fill="#222" stroke="#222" stroke-width="0.18">18</text>
<line x1="231.1" y1="355.5" x2="231.1" y2="357" stroke="#3a3a3a" stroke-width="0.7"/>
<text x="231.1" y="361.1" text-anchor="middle" font-size="4.1" font-weight="bold" fill="#222" stroke="#222" stroke-width="0.18">21</text>
<line x1="241.4" y1="355.5" x2="241.4" y2="357" stroke="#3a3a3a" stroke-width="0.7"/>
<text x="241.4" y="361.1" text-anchor="middle" font-size="4.1" font-weight="bold" fill="#222" stroke="#222" stroke-width="0.18">24</text>
<line x1="251.7" y1="355.5" x2="251.7" y2="357" stroke="#3a3a3a" stroke-width="0.7"/>
<text x="251.7" y="361.1" text-anchor="middle" font-size="4.1" font-weight="bold" fill="#222" stroke="#222" stroke-width="0.18">30</text>
<line x1="262" y1="355.5" x2="262" y2="357" stroke="#3a3a3a" stroke-width="0.7"/>
<text x="262" y="361.1" text-anchor="middle" font-size="4.1" font-weight="bold" fill="#222" stroke="#222" stroke-width="0.18">36</text>
<line x1="272.3" y1="355.5" x2="272.3" y2="357" stroke="#3a3a3a" stroke-width="0.7"/>
<text x="272.3" y="361.1" text-anchor="middle" font-size="4.1" font-weight="bold" fill="#222" stroke="#222" stroke-width="0.18">42</text>
<line x1="282.6" y1="355.5" x2="282.6" y2="357" stroke="#3a3a3a" stroke-width="0.7"/>
<text x="282.6" y="361.1" text-anchor="middle" font-size="4.1" font-weight="bold" fill="#222" stroke="#222" stroke-width="0.18">49</text>
<line x1="292.9" y1="355.5" x2="292.9" y2="357" stroke="#3a3a3a" stroke-width="0.7"/>
<text x="292.9" y="361.1" text-anchor="middle" font-size="4.1" font-weight="bold" fill="#222" stroke="#222" stroke-width="0.18">63</text>
<line x1="303.2" y1="355.5" x2="303.2" y2="357" stroke="#3a3a3a" stroke-width="0.7"/>
<text x="303.2" y="361.1" text-anchor="middle" font-size="4.1" font-weight="bold" fill="#222" stroke="#222" stroke-width="0.18">83</text>
<text x="245.3" y="273.5" text-anchor="middle" style='font-family:"Liberation Sans", sans-serif;white-space:pre' font-size="5.15" font-weight="bold" fill="#111" stroke="#111" stroke-width="0.14">COMT (c43821.c0)</text>
<rect x="293.4" y="304.7" width="5.9" height="2.6" rx="0.8" fill="#e6e6e6" stroke="#222" stroke-width="1.05"/>
<text x="302.2" y="307.8" font-size="4.25" fill="#8c8c8c" stroke="#8c8c8c" stroke-width="0.2">LE</text>
<rect x="293.4" y="310.85" width="5.9" height="2.6" rx="0.8" fill="#a8a8a8" stroke="#222" stroke-width="1.05"/>
<text x="302.2" y="313.95" font-size="4.25" fill="#8c8c8c" stroke="#8c8c8c" stroke-width="0.2">JG</text>
<text x="0" y="0" transform="translate(170.1,313.7) rotate(-90)" text-anchor="middle" font-size="4.3" font-weight="bold" fill="#1a1a1a" stroke="#1a1a1a" stroke-width="0.26">Relative expression</text>
<text x="247.7" y="367.6" text-anchor="middle" font-size="4.35" font-weight="bold" fill="#1a1a1a" stroke="#1a1a1a" stroke-width="0.26">DAFB (d)</text>
<line x1="341.65" y1="349.2" x2="341.65" y2="348" stroke="#2a2a2a" stroke-width="0.8"/>
<line x1="340.8" y1="348" x2="342.5" y2="348" stroke="#2a2a2a" stroke-width="0.9"/>
<rect x="340.38" y="349.62" width="2.55" height="5.38" fill="#d4d4d4" stroke="#2a2a2a" stroke-width="0.85"/>
<rect x="344.28" y="325.23" width="2.55" height="29.77" fill="#7f7f7f" stroke="#2a2a2a" stroke-width="0.85"/>
<rect x="350.4" y="354.2" width="3.4" height="0.8" fill="#2a2a2a"/>
<rect x="354.73" y="324.53" width="2.55" height="30.47" fill="#7f7f7f" stroke="#2a2a2a" stroke-width="0.85"/>
<rect x="360.85" y="354.2" width="3.4" height="0.8" fill="#2a2a2a"/>
<line x1="366.45" y1="323.6" x2="366.45" y2="320.3" stroke="#2a2a2a" stroke-width="0.8"/>
<line x1="365.6" y1="320.3" x2="367.3" y2="320.3" stroke="#2a2a2a" stroke-width="0.9"/>
<rect x="365.18" y="324.03" width="2.55" height="30.97" fill="#7f7f7f" stroke="#2a2a2a" stroke-width="0.85"/>
<rect x="371.3" y="354.2" width="3.4" height="0.8" fill="#2a2a2a"/>
<rect x="375.63" y="332.82" width="2.55" height="22.18" fill="#7f7f7f" stroke="#2a2a2a" stroke-width="0.85"/>
<rect x="381.75" y="354.2" width="3.4" height="0.8" fill="#2a2a2a"/>
<line x1="387.35" y1="344.6" x2="387.35" y2="343.5" stroke="#2a2a2a" stroke-width="0.8"/>
<line x1="386.5" y1="343.5" x2="388.2" y2="343.5" stroke="#2a2a2a" stroke-width="0.9"/>
<rect x="386.08" y="345.03" width="2.55" height="9.97" fill="#7f7f7f" stroke="#2a2a2a" stroke-width="0.85"/>
<rect x="392.2" y="354.2" width="3.4" height="0.8" fill="#2a2a2a"/>
<rect x="396.53" y="346.82" width="2.55" height="8.18" fill="#7f7f7f" stroke="#2a2a2a" stroke-width="0.85"/>
<rect x="402.65" y="354.2" width="3.4" height="0.8" fill="#2a2a2a"/>
<rect x="406.98" y="353.73" width="2.55" height="1.27" fill="#7f7f7f" stroke="#2a2a2a" stroke-width="0.85"/>
<rect x="413.1" y="354.2" width="3.4" height="0.8" fill="#2a2a2a"/>
<line x1="418.7" y1="283.2" x2="418.7" y2="278.2" stroke="#2a2a2a" stroke-width="0.8"/>
<line x1="417.85" y1="278.2" x2="419.55" y2="278.2" stroke="#2a2a2a" stroke-width="0.9"/>
<rect x="417.43" y="283.62" width="2.55" height="71.38" fill="#7f7f7f" stroke="#2a2a2a" stroke-width="0.85"/>
<rect x="423.55" y="354.2" width="3.4" height="0.8" fill="#2a2a2a"/>
<rect x="427.45" y="354.2" width="3.4" height="0.8" fill="#2a2a2a"/>
<rect x="434" y="354.2" width="3.4" height="0.8" fill="#2a2a2a"/>
<rect x="437.9" y="354.2" width="3.4" height="0.8" fill="#2a2a2a"/>
<rect x="444.45" y="354.2" width="3.4" height="0.8" fill="#2a2a2a"/>
<rect x="448.35" y="354.2" width="3.4" height="0.8" fill="#2a2a2a"/>
<rect x="454.9" y="354.2" width="3.4" height="0.8" fill="#2a2a2a"/>
<rect x="458.8" y="354.2" width="3.4" height="0.8" fill="#2a2a2a"/>
<circle cx="341.65" cy="341.8" r="1.2" fill="#1a1a1a"/>
<circle cx="352.1" cy="350" r="1.2" fill="#1a1a1a"/>
<circle cx="362.55" cy="350" r="1.2" fill="#1a1a1a"/>
<circle cx="373" cy="350" r="1.2" fill="#1a1a1a"/>
<circle cx="383.45" cy="350" r="1.2" fill="#1a1a1a"/>
<circle cx="393.9" cy="350" r="1.2" fill="#1a1a1a"/>
<circle cx="404.35" cy="350" r="1.2" fill="#1a1a1a"/>
<circle cx="414.8" cy="349.5" r="1.2" fill="#1a1a1a"/>
<rect x="335.1" y="312.8" width="89.9" height="4.2" fill="#fff"/>
<line x1="338.1" y1="271.3" x2="338.1" y2="313.3" stroke="#4a4a4a" stroke-width="1.1"/>
<line x1="338.1" y1="317" x2="338.1" y2="355.5" stroke="#4a4a4a" stroke-width="1.1"/>
<line x1="337.6" y1="355" x2="464" y2="355" stroke="#3a3a3a" stroke-width="1"/>
<line x1="336.5" y1="271.3" x2="338.1" y2="271.3" stroke="#3a3a3a" stroke-width="0.8"/>
<text x="336" y="272.75" text-anchor="end" font-size="4.1" font-weight="bold" fill="#222" stroke="#222" stroke-width="0.18">4</text>
<line x1="336.5" y1="283.2" x2="338.1" y2="283.2" stroke="#3a3a3a" stroke-width="0.8"/>
<text x="336" y="284.65" text-anchor="end" font-size="4.1" font-weight="bold" fill="#222" stroke="#222" stroke-width="0.18">3</text>
<line x1="336.5" y1="295.5" x2="338.1" y2="295.5" stroke="#3a3a3a" stroke-width="0.8"/>
<text x="336" y="296.95" text-anchor="end" font-size="4.1" font-weight="bold" fill="#222" stroke="#222" stroke-width="0.18">2</text>
<line x1="336.5" y1="307.6" x2="338.1" y2="307.6" stroke="#3a3a3a" stroke-width="0.8"/>
<text x="336" y="309.05" text-anchor="end" font-size="4.1" font-weight="bold" fill="#222" stroke="#222" stroke-width="0.18">1</text>
<line x1="336.5" y1="321.1" x2="338.1" y2="321.1" stroke="#3a3a3a" stroke-width="0.8"/>
<text x="336" y="322.55" text-anchor="end" font-size="4.1" font-weight="bold" fill="#222" stroke="#222" stroke-width="0.18">0.4</text>
<line x1="336.5" y1="338.5" x2="338.1" y2="338.5" stroke="#3a3a3a" stroke-width="0.8"/>
<text x="336" y="339.95" text-anchor="end" font-size="4.1" font-weight="bold" fill="#222" stroke="#222" stroke-width="0.18">0.2</text>
<line x1="336.5" y1="355" x2="338.1" y2="355" stroke="#3a3a3a" stroke-width="0.8"/>
<text x="336" y="356.45" text-anchor="end" font-size="4.1" font-weight="bold" fill="#222" stroke="#222" stroke-width="0.18">0.0</text>
<line x1="343.6" y1="355" x2="343.6" y2="356.5" stroke="#3a3a3a" stroke-width="0.7"/>
<text x="343.6" y="360.6" text-anchor="middle" font-size="4.1" font-weight="bold" fill="#222" stroke="#222" stroke-width="0.18">9</text>
<line x1="354.05" y1="355" x2="354.05" y2="356.5" stroke="#3a3a3a" stroke-width="0.7"/>
<text x="354.05" y="360.6" text-anchor="middle" font-size="4.1" font-weight="bold" fill="#222" stroke="#222" stroke-width="0.18">12</text>
<line x1="364.5" y1="355" x2="364.5" y2="356.5" stroke="#3a3a3a" stroke-width="0.7"/>
<text x="364.5" y="360.6" text-anchor="middle" font-size="4.1" font-weight="bold" fill="#222" stroke="#222" stroke-width="0.18">15</text>
<line x1="374.95" y1="355" x2="374.95" y2="356.5" stroke="#3a3a3a" stroke-width="0.7"/>
<text x="374.95" y="360.6" text-anchor="middle" font-size="4.1" font-weight="bold" fill="#222" stroke="#222" stroke-width="0.18">18</text>
<line x1="385.4" y1="355" x2="385.4" y2="356.5" stroke="#3a3a3a" stroke-width="0.7"/>
<text x="385.4" y="360.6" text-anchor="middle" font-size="4.1" font-weight="bold" fill="#222" stroke="#222" stroke-width="0.18">21</text>
<line x1="395.85" y1="355" x2="395.85" y2="356.5" stroke="#3a3a3a" stroke-width="0.7"/>
<text x="395.85" y="360.6" text-anchor="middle" font-size="4.1" font-weight="bold" fill="#222" stroke="#222" stroke-width="0.18">24</text>
<line x1="406.3" y1="355" x2="406.3" y2="356.5" stroke="#3a3a3a" stroke-width="0.7"/>
<text x="406.3" y="360.6" text-anchor="middle" font-size="4.1" font-weight="bold" fill="#222" stroke="#222" stroke-width="0.18">30</text>
<line x1="416.75" y1="355" x2="416.75" y2="356.5" stroke="#3a3a3a" stroke-width="0.7"/>
<text x="416.75" y="360.6" text-anchor="middle" font-size="4.1" font-weight="bold" fill="#222" stroke="#222" stroke-width="0.18">36</text>
<line x1="427.2" y1="355" x2="427.2" y2="356.5" stroke="#3a3a3a" stroke-width="0.7"/>
<text x="427.2" y="360.6" text-anchor="middle" font-size="4.1" font-weight="bold" fill="#222" stroke="#222" stroke-width="0.18">42</text>
<line x1="437.65" y1="355" x2="437.65" y2="356.5" stroke="#3a3a3a" stroke-width="0.7"/>
<text x="437.65" y="360.6" text-anchor="middle" font-size="4.1" font-weight="bold" fill="#222" stroke="#222" stroke-width="0.18">49</text>
<line x1="448.1" y1="355" x2="448.1" y2="356.5" stroke="#3a3a3a" stroke-width="0.7"/>
<text x="448.1" y="360.6" text-anchor="middle" font-size="4.1" font-weight="bold" fill="#222" stroke="#222" stroke-width="0.18">63</text>
<line x1="458.55" y1="355" x2="458.55" y2="356.5" stroke="#3a3a3a" stroke-width="0.7"/>
<text x="458.55" y="360.6" text-anchor="middle" font-size="4.1" font-weight="bold" fill="#222" stroke="#222" stroke-width="0.18">83</text>
<text x="401.4" y="273.5" text-anchor="middle" style='font-family:"Liberation Serif", serif;white-space:pre' font-size="5.15" font-weight="bold" fill="#111" stroke="#111" stroke-width="0.14">CAD (c10104.c0)</text>
<rect x="449" y="304.7" width="5.9" height="2.6" rx="0.8" fill="#e6e6e6" stroke="#222" stroke-width="1.05"/>
<text x="457.8" y="307.8" font-size="4.25" fill="#8c8c8c" stroke="#8c8c8c" stroke-width="0.2">LE</text>
<rect x="449" y="310.85" width="5.9" height="2.6" rx="0.8" fill="#a8a8a8" stroke="#222" stroke-width="1.05"/>
<text x="457.8" y="313.95" font-size="4.25" fill="#8c8c8c" stroke="#8c8c8c" stroke-width="0.2">JG</text>
<text x="0" y="0" transform="translate(329.1,310.8) rotate(-90)" text-anchor="middle" font-size="4.3" font-weight="bold" fill="#1a1a1a" stroke="#1a1a1a" stroke-width="0.26">Relative expression</text>
<text x="402.7" y="367.6" text-anchor="middle" font-size="4.35" font-weight="bold" fill="#1a1a1a" stroke="#1a1a1a" stroke-width="0.26">DAFB (d)</text>
<line x1="504.25" y1="280.7" x2="504.25" y2="274.9" stroke="#2a2a2a" stroke-width="0.8"/>
<line x1="503.4" y1="274.9" x2="505.1" y2="274.9" stroke="#2a2a2a" stroke-width="0.9"/>
<rect x="502.98" y="281.12" width="2.55" height="74.38" fill="#d4d4d4" stroke="#2a2a2a" stroke-width="0.85"/>
<line x1="508.15" y1="298" x2="508.15" y2="289.4" stroke="#2a2a2a" stroke-width="0.8"/>
<line x1="507.3" y1="289.4" x2="509" y2="289.4" stroke="#2a2a2a" stroke-width="0.9"/>
<rect x="506.88" y="298.43" width="2.55" height="57.08" fill="#7f7f7f" stroke="#2a2a2a" stroke-width="0.85"/>
<rect x="513.38" y="339.43" width="2.55" height="16.07" fill="#d4d4d4" stroke="#2a2a2a" stroke-width="0.85"/>
<line x1="518.55" y1="340.6" x2="518.55" y2="339.5" stroke="#2a2a2a" stroke-width="0.8"/>
<line x1="517.7" y1="339.5" x2="519.4" y2="339.5" stroke="#2a2a2a" stroke-width="0.9"/>
<rect x="517.27" y="341.03" width="2.55" height="14.47" fill="#7f7f7f" stroke="#2a2a2a" stroke-width="0.85"/>
<rect x="523.77" y="333.93" width="2.55" height="21.57" fill="#d4d4d4" stroke="#2a2a2a" stroke-width="0.85"/>
<line x1="528.95" y1="336.8" x2="528.95" y2="331.9" stroke="#2a2a2a" stroke-width="0.8"/>
<line x1="528.1" y1="331.9" x2="529.8" y2="331.9" stroke="#2a2a2a" stroke-width="0.9"/>
<rect x="527.67" y="337.23" width="2.55" height="18.27" fill="#7f7f7f" stroke="#2a2a2a" stroke-width="0.85"/>
<rect x="534.17" y="327.32" width="2.55" height="28.18" fill="#d4d4d4" stroke="#2a2a2a" stroke-width="0.85"/>
<rect x="538.07" y="335.62" width="2.55" height="19.88" fill="#7f7f7f" stroke="#2a2a2a" stroke-width="0.85"/>
<line x1="545.85" y1="293.4" x2="545.85" y2="285.6" stroke="#2a2a2a" stroke-width="0.8"/>
<line x1="545" y1="285.6" x2="546.7" y2="285.6" stroke="#2a2a2a" stroke-width="0.9"/>
<rect x="544.57" y="293.82" width="2.55" height="61.68" fill="#d4d4d4" stroke="#2a2a2a" stroke-width="0.85"/>
<rect x="548.47" y="352.62" width="2.55" height="2.88" fill="#7f7f7f" stroke="#2a2a2a" stroke-width="0.85"/>
<rect x="554.98" y="353.93" width="2.55" height="1.57" fill="#d4d4d4" stroke="#2a2a2a" stroke-width="0.85"/>
<rect x="558.88" y="354.93" width="2.55" height="0.57" fill="#7f7f7f" stroke="#2a2a2a" stroke-width="0.85"/>
<rect x="565.38" y="354.93" width="2.55" height="0.57" fill="#d4d4d4" stroke="#2a2a2a" stroke-width="0.85"/>
<rect x="569.27" y="354.43" width="2.55" height="1.07" fill="#7f7f7f" stroke="#2a2a2a" stroke-width="0.85"/>
<rect x="575.77" y="354.43" width="2.55" height="1.07" fill="#d4d4d4" stroke="#2a2a2a" stroke-width="0.85"/>
<rect x="579.67" y="353.93" width="2.55" height="1.57" fill="#7f7f7f" stroke="#2a2a2a" stroke-width="0.85"/>
<rect x="586.17" y="354.43" width="2.55" height="1.07" fill="#d4d4d4" stroke="#2a2a2a" stroke-width="0.85"/>
<rect x="590.07" y="353.93" width="2.55" height="1.57" fill="#7f7f7f" stroke="#2a2a2a" stroke-width="0.85"/>
<rect x="596.57" y="341.93" width="2.55" height="13.57" fill="#d4d4d4" stroke="#2a2a2a" stroke-width="0.85"/>
<rect x="600.47" y="348.23" width="2.55" height="7.27" fill="#7f7f7f" stroke="#2a2a2a" stroke-width="0.85"/>
<rect x="606.55" y="354.7" width="3.4" height="0.8" fill="#2a2a2a"/>
<rect x="610.45" y="354.7" width="3.4" height="0.8" fill="#2a2a2a"/>
<rect x="617.38" y="355.23" width="2.55" height="0.27" fill="#d4d4d4" stroke="#2a2a2a" stroke-width="0.85"/>
<line x1="622.55" y1="351.5" x2="622.55" y2="350" stroke="#2a2a2a" stroke-width="0.8"/>
<line x1="621.7" y1="350" x2="623.4" y2="350" stroke="#2a2a2a" stroke-width="0.9"/>
<rect x="621.27" y="351.93" width="2.55" height="3.58" fill="#7f7f7f" stroke="#2a2a2a" stroke-width="0.85"/>
<circle cx="504.25" cy="271.6" r="1.2" fill="#1a1a1a"/>
<circle cx="535.45" cy="322" r="1.2" fill="#1a1a1a"/>
<circle cx="545.85" cy="281.5" r="1.2" fill="#1a1a1a"/>
<circle cx="597.85" cy="335.2" r="1.2" fill="#1a1a1a"/>
<rect x="497.5" y="327.4" width="54.5" height="3.6" fill="#fff"/>
<line x1="500.5" y1="271.6" x2="500.5" y2="327.9" stroke="#4a4a4a" stroke-width="1.1"/>
<line x1="500.5" y1="331" x2="500.5" y2="356" stroke="#4a4a4a" stroke-width="1.1"/>
<line x1="500" y1="355.5" x2="626.3" y2="355.5" stroke="#3a3a3a" stroke-width="1"/>
<line x1="498.9" y1="271.6" x2="500.5" y2="271.6" stroke="#3a3a3a" stroke-width="0.8"/>
<text x="498.4" y="273.05" text-anchor="end" font-size="4.1" font-weight="bold" fill="#222" stroke="#222" stroke-width="0.18">50</text>
<line x1="498.9" y1="284" x2="500.5" y2="284" stroke="#3a3a3a" stroke-width="0.8"/>
<text x="498.4" y="285.45" text-anchor="end" font-size="4.1" font-weight="bold" fill="#222" stroke="#222" stroke-width="0.18">40</text>
<line x1="498.9" y1="296.4" x2="500.5" y2="296.4" stroke="#3a3a3a" stroke-width="0.8"/>
<text x="498.4" y="297.85" text-anchor="end" font-size="4.1" font-weight="bold" fill="#222" stroke="#222" stroke-width="0.18">30</text>
<line x1="498.9" y1="308.8" x2="500.5" y2="308.8" stroke="#3a3a3a" stroke-width="0.8"/>
<text x="498.4" y="310.25" text-anchor="end" font-size="4.1" font-weight="bold" fill="#222" stroke="#222" stroke-width="0.18">20</text>
<line x1="498.9" y1="321.1" x2="500.5" y2="321.1" stroke="#3a3a3a" stroke-width="0.8"/>
<text x="498.4" y="322.55" text-anchor="end" font-size="4.1" font-weight="bold" fill="#222" stroke="#222" stroke-width="0.18">10</text>
<line x1="498.9" y1="335.2" x2="500.5" y2="335.2" stroke="#3a3a3a" stroke-width="0.8"/>
<text x="498.4" y="336.65" text-anchor="end" font-size="4.1" font-weight="bold" fill="#222" stroke="#222" stroke-width="0.18">4</text>
<line x1="498.9" y1="340.1" x2="500.5" y2="340.1" stroke="#3a3a3a" stroke-width="0.8"/>
<text x="498.4" y="341.55" text-anchor="end" font-size="4.1" font-weight="bold" fill="#222" stroke="#222" stroke-width="0.18">3</text>
<line x1="498.9" y1="345.4" x2="500.5" y2="345.4" stroke="#3a3a3a" stroke-width="0.8"/>
<text x="498.4" y="346.85" text-anchor="end" font-size="4.1" font-weight="bold" fill="#222" stroke="#222" stroke-width="0.18">2</text>
<line x1="498.9" y1="350.5" x2="500.5" y2="350.5" stroke="#3a3a3a" stroke-width="0.8"/>
<text x="498.4" y="351.95" text-anchor="end" font-size="4.1" font-weight="bold" fill="#222" stroke="#222" stroke-width="0.18">1</text>
<line x1="498.9" y1="355.5" x2="500.5" y2="355.5" stroke="#3a3a3a" stroke-width="0.8"/>
<text x="498.4" y="356.95" text-anchor="end" font-size="4.1" font-weight="bold" fill="#222" stroke="#222" stroke-width="0.18">0</text>
<line x1="506.2" y1="355.5" x2="506.2" y2="357" stroke="#3a3a3a" stroke-width="0.7"/>
<text x="506.2" y="361.1" text-anchor="middle" font-size="4.1" font-weight="bold" fill="#222" stroke="#222" stroke-width="0.18">9</text>
<line x1="516.6" y1="355.5" x2="516.6" y2="357" stroke="#3a3a3a" stroke-width="0.7"/>
<text x="516.6" y="361.1" text-anchor="middle" font-size="4.1" font-weight="bold" fill="#222" stroke="#222" stroke-width="0.18">12</text>
<line x1="527" y1="355.5" x2="527" y2="357" stroke="#3a3a3a" stroke-width="0.7"/>
<text x="527" y="361.1" text-anchor="middle" font-size="4.1" font-weight="bold" fill="#222" stroke="#222" stroke-width="0.18">15</text>
<line x1="537.4" y1="355.5" x2="537.4" y2="357" stroke="#3a3a3a" stroke-width="0.7"/>
<text x="537.4" y="361.1" text-anchor="middle" font-size="4.1" font-weight="bold" fill="#222" stroke="#222" stroke-width="0.18">18</text>
<line x1="547.8" y1="355.5" x2="547.8" y2="357" stroke="#3a3a3a" stroke-width="0.7"/>
<text x="547.8" y="361.1" text-anchor="middle" font-size="4.1" font-weight="bold" fill="#222" stroke="#222" stroke-width="0.18">21</text>
<line x1="558.2" y1="355.5" x2="558.2" y2="357" stroke="#3a3a3a" stroke-width="0.7"/>
<text x="558.2" y="361.1" text-anchor="middle" font-size="4.1" font-weight="bold" fill="#222" stroke="#222" stroke-width="0.18">24</text>
<line x1="568.6" y1="355.5" x2="568.6" y2="357" stroke="#3a3a3a" stroke-width="0.7"/>
<text x="568.6" y="361.1" text-anchor="middle" font-size="4.1" font-weight="bold" fill="#222" stroke="#222" stroke-width="0.18">30</text>
<line x1="579" y1="355.5" x2="579" y2="357" stroke="#3a3a3a" stroke-width="0.7"/>
<text x="579" y="361.1" text-anchor="middle" font-size="4.1" font-weight="bold" fill="#222" stroke="#222" stroke-width="0.18">36</text>
<line x1="589.4" y1="355.5" x2="589.4" y2="357" stroke="#3a3a3a" stroke-width="0.7"/>
<text x="589.4" y="361.1" text-anchor="middle" font-size="4.1" font-weight="bold" fill="#222" stroke="#222" stroke-width="0.18">42</text>
<line x1="599.8" y1="355.5" x2="599.8" y2="357" stroke="#3a3a3a" stroke-width="0.7"/>
<text x="599.8" y="361.1" text-anchor="middle" font-size="4.1" font-weight="bold" fill="#222" stroke="#222" stroke-width="0.18">49</text>
<line x1="610.2" y1="355.5" x2="610.2" y2="357" stroke="#3a3a3a" stroke-width="0.7"/>
<text x="610.2" y="361.1" text-anchor="middle" font-size="4.1" font-weight="bold" fill="#222" stroke="#222" stroke-width="0.18">63</text>
<line x1="620.6" y1="355.5" x2="620.6" y2="357" stroke="#3a3a3a" stroke-width="0.7"/>
<text x="620.6" y="361.1" text-anchor="middle" font-size="4.1" font-weight="bold" fill="#222" stroke="#222" stroke-width="0.18">83</text>
<text x="559.9" y="273.5" text-anchor="middle" style='font-family:"Liberation Sans", sans-serif;white-space:pre' font-size="5.15" font-weight="bold" fill="#111" stroke="#111" stroke-width="0.14">F3H (c48234.c0)</text>
<rect x="610.5" y="304.7" width="5.9" height="2.6" rx="0.8" fill="#e6e6e6" stroke="#222" stroke-width="1.05"/>
<text x="619.3" y="307.8" font-size="4.25" fill="#8c8c8c" stroke="#8c8c8c" stroke-width="0.2">LE</text>
<rect x="610.5" y="310.85" width="5.9" height="2.6" rx="0.8" fill="#a8a8a8" stroke="#222" stroke-width="1.05"/>
<text x="619.3" y="313.95" font-size="4.25" fill="#8c8c8c" stroke="#8c8c8c" stroke-width="0.2">JG</text>
<text x="0" y="0" transform="translate(489.9,313.7) rotate(-90)" text-anchor="middle" font-size="4.3" font-weight="bold" fill="#1a1a1a" stroke="#1a1a1a" stroke-width="0.26">Relative expression</text>
<text x="564" y="367.6" text-anchor="middle" font-size="4.35" font-weight="bold" fill="#1a1a1a" stroke="#1a1a1a" stroke-width="0.26">DAFB (d)</text>
<line x1="30.85" y1="460.8" x2="30.85" y2="459" stroke="#2a2a2a" stroke-width="0.8"/>
<line x1="30" y1="459" x2="31.7" y2="459" stroke="#2a2a2a" stroke-width="0.9"/>
<rect x="29.57" y="461.23" width="2.55" height="10.27" fill="#d4d4d4" stroke="#2a2a2a" stroke-width="0.85"/>
<line x1="34.75" y1="415.6" x2="34.75" y2="405.1" stroke="#2a2a2a" stroke-width="0.8"/>
<line x1="33.9" y1="405.1" x2="35.6" y2="405.1" stroke="#2a2a2a" stroke-width="0.9"/>
<rect x="33.47" y="416.03" width="2.55" height="55.47" fill="#7f7f7f" stroke="#2a2a2a" stroke-width="0.85"/>
<rect x="39.5" y="470.7" width="3.4" height="0.8" fill="#2a2a2a"/>
<line x1="45.1" y1="444" x2="45.1" y2="443" stroke="#2a2a2a" stroke-width="0.8"/>
<line x1="44.25" y1="443" x2="45.95" y2="443" stroke="#2a2a2a" stroke-width="0.9"/>
<rect x="43.82" y="444.43" width="2.55" height="27.07" fill="#7f7f7f" stroke="#2a2a2a" stroke-width="0.85"/>
<rect x="49.85" y="470.7" width="3.4" height="0.8" fill="#2a2a2a"/>
<line x1="55.45" y1="455.2" x2="55.45" y2="452.2" stroke="#2a2a2a" stroke-width="0.8"/>
<line x1="54.6" y1="452.2" x2="56.3" y2="452.2" stroke="#2a2a2a" stroke-width="0.9"/>
<rect x="54.17" y="455.62" width="2.55" height="15.88" fill="#7f7f7f" stroke="#2a2a2a" stroke-width="0.85"/>
<rect x="60.2" y="470.7" width="3.4" height="0.8" fill="#2a2a2a"/>
<line x1="65.8" y1="459.5" x2="65.8" y2="456.5" stroke="#2a2a2a" stroke-width="0.8"/>
<line x1="64.95" y1="456.5" x2="66.65" y2="456.5" stroke="#2a2a2a" stroke-width="0.9"/>
<rect x="64.52" y="459.93" width="2.55" height="11.57" fill="#7f7f7f" stroke="#2a2a2a" stroke-width="0.85"/>
<rect x="70.55" y="470.7" width="3.4" height="0.8" fill="#2a2a2a"/>
<line x1="76.15" y1="460.8" x2="76.15" y2="460" stroke="#2a2a2a" stroke-width="0.8"/>
<line x1="75.3" y1="460" x2="77" y2="460" stroke="#2a2a2a" stroke-width="0.9"/>
<rect x="74.87" y="461.23" width="2.55" height="10.27" fill="#7f7f7f" stroke="#2a2a2a" stroke-width="0.85"/>
<rect x="80.9" y="470.7" width="3.4" height="0.8" fill="#2a2a2a"/>
<rect x="85.22" y="470.23" width="2.55" height="1.27" fill="#7f7f7f" stroke="#2a2a2a" stroke-width="0.85"/>
<rect x="91.25" y="470.7" width="3.4" height="0.8" fill="#2a2a2a"/>
<rect x="95.15" y="470.7" width="3.4" height="0.8" fill="#2a2a2a"/>
<rect x="101.6" y="470.7" width="3.4" height="0.8" fill="#2a2a2a"/>
<rect x="105.5" y="470.7" width="3.4" height="0.8" fill="#2a2a2a"/>
<rect x="111.95" y="470.7" width="3.4" height="0.8" fill="#2a2a2a"/>
<line x1="117.55" y1="457.2" x2="117.55" y2="456.5" stroke="#2a2a2a" stroke-width="0.8"/>
<line x1="116.7" y1="456.5" x2="118.4" y2="456.5" stroke="#2a2a2a" stroke-width="0.9"/>
<rect x="116.27" y="457.62" width="2.55" height="13.88" fill="#7f7f7f" stroke="#2a2a2a" stroke-width="0.85"/>
<rect x="122.3" y="470.7" width="3.4" height="0.8" fill="#2a2a2a"/>
<rect x="126.62" y="470.93" width="2.55" height="0.57" fill="#7f7f7f" stroke="#2a2a2a" stroke-width="0.85"/>
<rect x="132.65" y="470.7" width="3.4" height="0.8" fill="#2a2a2a"/>
<rect x="136.55" y="470.7" width="3.4" height="0.8" fill="#2a2a2a"/>
<rect x="143" y="470.7" width="3.4" height="0.8" fill="#2a2a2a"/>
<rect x="147.32" y="471.23" width="2.55" height="0.27" fill="#7f7f7f" stroke="#2a2a2a" stroke-width="0.85"/>
<circle cx="30.85" cy="454" r="1.2" fill="#1a1a1a"/>
<circle cx="41.2" cy="465.8" r="1.2" fill="#1a1a1a"/>
<circle cx="51.55" cy="465.8" r="1.2" fill="#1a1a1a"/>
<circle cx="61.9" cy="465.8" r="1.2" fill="#1a1a1a"/>
<circle cx="72.25" cy="465.8" r="1.2" fill="#1a1a1a"/>
<circle cx="82.6" cy="465.8" r="1.2" fill="#1a1a1a"/>
<circle cx="92.95" cy="465.8" r="1.2" fill="#1a1a1a"/>
<circle cx="113.65" cy="465.8" r="1.2" fill="#1a1a1a"/>
<circle cx="124" cy="465.8" r="1.2" fill="#1a1a1a"/>
<line x1="26.8" y1="386.8" x2="26.8" y2="472" stroke="#4a4a4a" stroke-width="1.1"/>
<line x1="26.3" y1="471.5" x2="152.5" y2="471.5" stroke="#3a3a3a" stroke-width="1"/>
<line x1="25.2" y1="386.8" x2="26.8" y2="386.8" stroke="#3a3a3a" stroke-width="0.8"/>
<text x="24.7" y="388.25" text-anchor="end" font-size="4.1" font-weight="bold" fill="#222" stroke="#222" stroke-width="0.18">8</text>
<line x1="25.2" y1="407.98" x2="26.8" y2="407.98" stroke="#3a3a3a" stroke-width="0.8"/>
<text x="24.7" y="409.43" text-anchor="end" font-size="4.1" font-weight="bold" fill="#222" stroke="#222" stroke-width="0.18">6</text>
<line x1="25.2" y1="429.15" x2="26.8" y2="429.15" stroke="#3a3a3a" stroke-width="0.8"/>
<text x="24.7" y="430.6" text-anchor="end" font-size="4.1" font-weight="bold" fill="#222" stroke="#222" stroke-width="0.18">4</text>
<line x1="25.2" y1="450.32" x2="26.8" y2="450.32" stroke="#3a3a3a" stroke-width="0.8"/>
<text x="24.7" y="451.77" text-anchor="end" font-size="4.1" font-weight="bold" fill="#222" stroke="#222" stroke-width="0.18">2</text>
<line x1="25.2" y1="471.5" x2="26.8" y2="471.5" stroke="#3a3a3a" stroke-width="0.8"/>
<text x="24.7" y="472.95" text-anchor="end" font-size="4.1" font-weight="bold" fill="#222" stroke="#222" stroke-width="0.18">0</text>
<line x1="32.8" y1="471.5" x2="32.8" y2="473" stroke="#3a3a3a" stroke-width="0.7"/>
<text x="32.8" y="477.1" text-anchor="middle" font-size="4.1" font-weight="bold" fill="#222" stroke="#222" stroke-width="0.18">9</text>
<line x1="43.15" y1="471.5" x2="43.15" y2="473" stroke="#3a3a3a" stroke-width="0.7"/>
<text x="43.15" y="477.1" text-anchor="middle" font-size="4.1" font-weight="bold" fill="#222" stroke="#222" stroke-width="0.18">12</text>
<line x1="53.5" y1="471.5" x2="53.5" y2="473" stroke="#3a3a3a" stroke-width="0.7"/>
<text x="53.5" y="477.1" text-anchor="middle" font-size="4.1" font-weight="bold" fill="#222" stroke="#222" stroke-width="0.18">15</text>
<line x1="63.85" y1="471.5" x2="63.85" y2="473" stroke="#3a3a3a" stroke-width="0.7"/>
<text x="63.85" y="477.1" text-anchor="middle" font-size="4.1" font-weight="bold" fill="#222" stroke="#222" stroke-width="0.18">18</text>
<line x1="74.2" y1="471.5" x2="74.2" y2="473" stroke="#3a3a3a" stroke-width="0.7"/>
<text x="74.2" y="477.1" text-anchor="middle" font-size="4.1" font-weight="bold" fill="#222" stroke="#222" stroke-width="0.18">21</text>
<line x1="84.55" y1="471.5" x2="84.55" y2="473" stroke="#3a3a3a" stroke-width="0.7"/>
<text x="84.55" y="477.1" text-anchor="middle" font-size="4.1" font-weight="bold" fill="#222" stroke="#222" stroke-width="0.18">24</text>
<line x1="94.9" y1="471.5" x2="94.9" y2="473" stroke="#3a3a3a" stroke-width="0.7"/>
<text x="94.9" y="477.1" text-anchor="middle" font-size="4.1" font-weight="bold" fill="#222" stroke="#222" stroke-width="0.18">30</text>
<line x1="105.25" y1="471.5" x2="105.25" y2="473" stroke="#3a3a3a" stroke-width="0.7"/>
<text x="105.25" y="477.1" text-anchor="middle" font-size="4.1" font-weight="bold" fill="#222" stroke="#222" stroke-width="0.18">36</text>
<line x1="115.6" y1="471.5" x2="115.6" y2="473" stroke="#3a3a3a" stroke-width="0.7"/>
<text x="115.6" y="477.1" text-anchor="middle" font-size="4.1" font-weight="bold" fill="#222" stroke="#222" stroke-width="0.18">42</text>
<line x1="125.95" y1="471.5" x2="125.95" y2="473" stroke="#3a3a3a" stroke-width="0.7"/>
<text x="125.95" y="477.1" text-anchor="middle" font-size="4.1" font-weight="bold" fill="#222" stroke="#222" stroke-width="0.18">49</text>
<line x1="136.3" y1="471.5" x2="136.3" y2="473" stroke="#3a3a3a" stroke-width="0.7"/>
<text x="136.3" y="477.1" text-anchor="middle" font-size="4.1" font-weight="bold" fill="#222" stroke="#222" stroke-width="0.18">63</text>
<line x1="146.65" y1="471.5" x2="146.65" y2="473" stroke="#3a3a3a" stroke-width="0.7"/>
<text x="146.65" y="477.1" text-anchor="middle" font-size="4.1" font-weight="bold" fill="#222" stroke="#222" stroke-width="0.18">83</text>
<text x="90.8" y="386.9" text-anchor="middle" style='font-family:"Liberation Sans", sans-serif;white-space:pre' font-size="5.15" font-weight="bold" fill="#111" stroke="#111" stroke-width="0.14">DFR (c36612.c0)</text>
<rect x="135.2" y="408.8" width="5.9" height="2.6" rx="0.8" fill="#e6e6e6" stroke="#222" stroke-width="1.05"/>
<text x="144" y="411.9" font-size="4.25" fill="#8c8c8c" stroke="#8c8c8c" stroke-width="0.2">LE</text>
<rect x="135.2" y="414.95" width="5.9" height="2.6" rx="0.8" fill="#a8a8a8" stroke="#222" stroke-width="1.05"/>
<text x="144" y="418.05" font-size="4.25" fill="#8c8c8c" stroke="#8c8c8c" stroke-width="0.2">JG</text>
<text x="0" y="0" transform="translate(18.45,429.6) rotate(-90)" text-anchor="middle" font-size="4.3" font-weight="bold" fill="#1a1a1a" stroke="#1a1a1a" stroke-width="0.26">Relative expression</text>
<text x="90.2" y="483.3" text-anchor="middle" font-size="4.35" font-weight="bold" fill="#1a1a1a" stroke="#1a1a1a" stroke-width="0.26">DAFB (d)</text>
<line x1="187.6" y1="452" x2="187.6" y2="448.2" stroke="#2a2a2a" stroke-width="0.8"/>
<line x1="186.75" y1="448.2" x2="188.45" y2="448.2" stroke="#2a2a2a" stroke-width="0.9"/>
<rect x="186.33" y="452.43" width="2.55" height="17.07" fill="#d4d4d4" stroke="#2a2a2a" stroke-width="0.85"/>
<line x1="191.5" y1="457.7" x2="191.5" y2="457" stroke="#2a2a2a" stroke-width="0.8"/>
<line x1="190.65" y1="457" x2="192.35" y2="457" stroke="#2a2a2a" stroke-width="0.9"/>
<rect x="190.23" y="458.12" width="2.55" height="11.38" fill="#7f7f7f" stroke="#2a2a2a" stroke-width="0.85"/>
<line x1="197.95" y1="459.5" x2="197.95" y2="457.7" stroke="#2a2a2a" stroke-width="0.8"/>
<line x1="197.1" y1="457.7" x2="198.8" y2="457.7" stroke="#2a2a2a" stroke-width="0.9"/>
<rect x="196.68" y="459.93" width="2.55" height="9.57" fill="#d4d4d4" stroke="#2a2a2a" stroke-width="0.85"/>
<rect x="200.15" y="468.7" width="3.4" height="0.8" fill="#2a2a2a"/>
<line x1="208.3" y1="457.7" x2="208.3" y2="457" stroke="#2a2a2a" stroke-width="0.8"/>
<line x1="207.45" y1="457" x2="209.15" y2="457" stroke="#2a2a2a" stroke-width="0.9"/>
<rect x="207.03" y="458.12" width="2.55" height="11.38" fill="#d4d4d4" stroke="#2a2a2a" stroke-width="0.85"/>
<rect x="210.93" y="468.93" width="2.55" height="0.57" fill="#7f7f7f" stroke="#2a2a2a" stroke-width="0.85"/>
<rect x="217.38" y="465.73" width="2.55" height="3.77" fill="#d4d4d4" stroke="#2a2a2a" stroke-width="0.85"/>
<rect x="220.85" y="468.7" width="3.4" height="0.8" fill="#2a2a2a"/>
<rect x="227.73" y="463.93" width="2.55" height="5.58" fill="#d4d4d4" stroke="#2a2a2a" stroke-width="0.85"/>
<rect x="231.63" y="468.93" width="2.55" height="0.57" fill="#7f7f7f" stroke="#2a2a2a" stroke-width="0.85"/>
<line x1="239.35" y1="464" x2="239.35" y2="462.8" stroke="#2a2a2a" stroke-width="0.8"/>
<line x1="238.5" y1="462.8" x2="240.2" y2="462.8" stroke="#2a2a2a" stroke-width="0.9"/>
<rect x="238.08" y="464.43" width="2.55" height="5.08" fill="#d4d4d4" stroke="#2a2a2a" stroke-width="0.85"/>
<line x1="243.25" y1="463.3" x2="243.25" y2="461.5" stroke="#2a2a2a" stroke-width="0.8"/>
<line x1="242.4" y1="461.5" x2="244.1" y2="461.5" stroke="#2a2a2a" stroke-width="0.9"/>
<rect x="241.98" y="463.73" width="2.55" height="5.77" fill="#7f7f7f" stroke="#2a2a2a" stroke-width="0.85"/>
<rect x="248.43" y="467.73" width="2.55" height="1.77" fill="#d4d4d4" stroke="#2a2a2a" stroke-width="0.85"/>
<rect x="252.33" y="468.73" width="2.55" height="0.77" fill="#7f7f7f" stroke="#2a2a2a" stroke-width="0.85"/>
<line x1="260.05" y1="413.9" x2="260.05" y2="403.3" stroke="#2a2a2a" stroke-width="0.8"/>
<line x1="259.2" y1="403.3" x2="260.9" y2="403.3" stroke="#2a2a2a" stroke-width="0.9"/>
<rect x="258.78" y="414.32" width="2.55" height="55.18" fill="#d4d4d4" stroke="#2a2a2a" stroke-width="0.85"/>
<line x1="263.95" y1="455.2" x2="263.95" y2="451.5" stroke="#2a2a2a" stroke-width="0.8"/>
<line x1="263.1" y1="451.5" x2="264.8" y2="451.5" stroke="#2a2a2a" stroke-width="0.9"/>
<rect x="262.68" y="455.62" width="2.55" height="13.88" fill="#7f7f7f" stroke="#2a2a2a" stroke-width="0.85"/>
<rect x="269.13" y="464.43" width="2.55" height="5.08" fill="#d4d4d4" stroke="#2a2a2a" stroke-width="0.85"/>
<line x1="274.3" y1="464" x2="274.3" y2="462.8" stroke="#2a2a2a" stroke-width="0.8"/>
<line x1="273.45" y1="462.8" x2="275.15" y2="462.8" stroke="#2a2a2a" stroke-width="0.9"/>
<rect x="273.03" y="464.43" width="2.55" height="5.08" fill="#7f7f7f" stroke="#2a2a2a" stroke-width="0.85"/>
<rect x="279.48" y="467.43" width="2.55" height="2.08" fill="#d4d4d4" stroke="#2a2a2a" stroke-width="0.85"/>
<rect x="283.38" y="453.62" width="2.55" height="15.88" fill="#7f7f7f" stroke="#2a2a2a" stroke-width="0.85"/>
<rect x="289.83" y="466.93" width="2.55" height="2.58" fill="#d4d4d4" stroke="#2a2a2a" stroke-width="0.85"/>
<line x1="295" y1="426.9" x2="295" y2="421.4" stroke="#2a2a2a" stroke-width="0.8"/>
<line x1="294.15" y1="421.4" x2="295.85" y2="421.4" stroke="#2a2a2a" stroke-width="0.9"/>
<rect x="293.73" y="427.32" width="2.55" height="42.18" fill="#7f7f7f" stroke="#2a2a2a" stroke-width="0.85"/>
<rect x="299.75" y="468.7" width="3.4" height="0.8" fill="#2a2a2a"/>
<line x1="305.35" y1="463.3" x2="305.35" y2="462.3" stroke="#2a2a2a" stroke-width="0.8"/>
<line x1="304.5" y1="462.3" x2="306.2" y2="462.3" stroke="#2a2a2a" stroke-width="0.9"/>
<rect x="304.07" y="463.73" width="2.55" height="5.77" fill="#7f7f7f" stroke="#2a2a2a" stroke-width="0.85"/>
<circle cx="197.95" cy="451" r="1.2" fill="#1a1a1a"/>
<circle cx="208.3" cy="451" r="1.2" fill="#1a1a1a"/>
<circle cx="218.65" cy="459" r="1.2" fill="#1a1a1a"/>
<circle cx="229" cy="457" r="1.2" fill="#1a1a1a"/>
<circle cx="260.05" cy="398.8" r="1.2" fill="#1a1a1a"/>
<circle cx="280.75" cy="459.8" r="1.2" fill="#1a1a1a"/>
<circle cx="291.1" cy="459.8" r="1.2" fill="#1a1a1a"/>
<circle cx="301.45" cy="461.5" r="1.2" fill="#1a1a1a"/>
<line x1="183.6" y1="385.8" x2="183.6" y2="470" stroke="#4a4a4a" stroke-width="1.1"/>
<line x1="183.1" y1="469.5" x2="309.5" y2="469.5" stroke="#3a3a3a" stroke-width="1"/>
<line x1="182" y1="385.8" x2="183.6" y2="385.8" stroke="#3a3a3a" stroke-width="0.8"/>
<text x="181.5" y="387.25" text-anchor="end" font-size="4.1" font-weight="bold" fill="#222" stroke="#222" stroke-width="0.18">0.25</text>
<line x1="182" y1="402.54" x2="183.6" y2="402.54" stroke="#3a3a3a" stroke-width="0.8"/>
<text x="181.5" y="403.99" text-anchor="end" font-size="4.1" font-weight="bold" fill="#222" stroke="#222" stroke-width="0.18">0.20</text>
<line x1="182" y1="419.28" x2="183.6" y2="419.28" stroke="#3a3a3a" stroke-width="0.8"/>
<text x="181.5" y="420.73" text-anchor="end" font-size="4.1" font-weight="bold" fill="#222" stroke="#222" stroke-width="0.18">0.15</text>
<line x1="182" y1="436.02" x2="183.6" y2="436.02" stroke="#3a3a3a" stroke-width="0.8"/>
<text x="181.5" y="437.47" text-anchor="end" font-size="4.1" font-weight="bold" fill="#222" stroke="#222" stroke-width="0.18">0.10</text>
<line x1="182" y1="452.76" x2="183.6" y2="452.76" stroke="#3a3a3a" stroke-width="0.8"/>
<text x="181.5" y="454.21" text-anchor="end" font-size="4.1" font-weight="bold" fill="#222" stroke="#222" stroke-width="0.18">0.05</text>
<line x1="182" y1="469.5" x2="183.6" y2="469.5" stroke="#3a3a3a" stroke-width="0.8"/>
<text x="181.5" y="470.95" text-anchor="end" font-size="4.1" font-weight="bold" fill="#222" stroke="#222" stroke-width="0.18">0.00</text>
<line x1="189.55" y1="469.5" x2="189.55" y2="471" stroke="#3a3a3a" stroke-width="0.7"/>
<text x="189.55" y="475.1" text-anchor="middle" font-size="4.1" font-weight="bold" fill="#222" stroke="#222" stroke-width="0.18">9</text>
<line x1="199.9" y1="469.5" x2="199.9" y2="471" stroke="#3a3a3a" stroke-width="0.7"/>
<text x="199.9" y="475.1" text-anchor="middle" font-size="4.1" font-weight="bold" fill="#222" stroke="#222" stroke-width="0.18">12</text>
<line x1="210.25" y1="469.5" x2="210.25" y2="471" stroke="#3a3a3a" stroke-width="0.7"/>
<text x="210.25" y="475.1" text-anchor="middle" font-size="4.1" font-weight="bold" fill="#222" stroke="#222" stroke-width="0.18">15</text>
<line x1="220.6" y1="469.5" x2="220.6" y2="471" stroke="#3a3a3a" stroke-width="0.7"/>
<text x="220.6" y="475.1" text-anchor="middle" font-size="4.1" font-weight="bold" fill="#222" stroke="#222" stroke-width="0.18">18</text>
<line x1="230.95" y1="469.5" x2="230.95" y2="471" stroke="#3a3a3a" stroke-width="0.7"/>
<text x="230.95" y="475.1" text-anchor="middle" font-size="4.1" font-weight="bold" fill="#222" stroke="#222" stroke-width="0.18">21</text>
<line x1="241.3" y1="469.5" x2="241.3" y2="471" stroke="#3a3a3a" stroke-width="0.7"/>
<text x="241.3" y="475.1" text-anchor="middle" font-size="4.1" font-weight="bold" fill="#222" stroke="#222" stroke-width="0.18">24</text>
<line x1="251.65" y1="469.5" x2="251.65" y2="471" stroke="#3a3a3a" stroke-width="0.7"/>
<text x="251.65" y="475.1" text-anchor="middle" font-size="4.1" font-weight="bold" fill="#222" stroke="#222" stroke-width="0.18">30</text>
<line x1="262" y1="469.5" x2="262" y2="471" stroke="#3a3a3a" stroke-width="0.7"/>
<text x="262" y="475.1" text-anchor="middle" font-size="4.1" font-weight="bold" fill="#222" stroke="#222" stroke-width="0.18">36</text>
<line x1="272.35" y1="469.5" x2="272.35" y2="471" stroke="#3a3a3a" stroke-width="0.7"/>
<text x="272.35" y="475.1" text-anchor="middle" font-size="4.1" font-weight="bold" fill="#222" stroke="#222" stroke-width="0.18">42</text>
<line x1="282.7" y1="469.5" x2="282.7" y2="471" stroke="#3a3a3a" stroke-width="0.7"/>
<text x="282.7" y="475.1" text-anchor="middle" font-size="4.1" font-weight="bold" fill="#222" stroke="#222" stroke-width="0.18">49</text>
<line x1="293.05" y1="469.5" x2="293.05" y2="471" stroke="#3a3a3a" stroke-width="0.7"/>
<text x="293.05" y="475.1" text-anchor="middle" font-size="4.1" font-weight="bold" fill="#222" stroke="#222" stroke-width="0.18">63</text>
<line x1="303.4" y1="469.5" x2="303.4" y2="471" stroke="#3a3a3a" stroke-width="0.7"/>
<text x="303.4" y="475.1" text-anchor="middle" font-size="4.1" font-weight="bold" fill="#222" stroke="#222" stroke-width="0.18">83</text>
<text x="243.5" y="387" text-anchor="middle" style='font-family:"Liberation Serif", serif;white-space:pre' font-size="5.15" font-weight="bold" fill="#111" stroke="#111" stroke-width="0.14">CSLG3 (c47881.c0)</text>
<rect x="293.4" y="408.8" width="5.9" height="2.6" rx="0.8" fill="#e6e6e6" stroke="#222" stroke-width="1.05"/>
<text x="302.2" y="411.9" font-size="4.25" fill="#8c8c8c" stroke="#8c8c8c" stroke-width="0.2">LE</text>
<rect x="293.4" y="414.95" width="5.9" height="2.6" rx="0.8" fill="#a8a8a8" stroke="#222" stroke-width="1.05"/>
<text x="302.2" y="418.05" font-size="4.25" fill="#8c8c8c" stroke="#8c8c8c" stroke-width="0.2">JG</text>
<text x="0" y="0" transform="translate(170.1,427.5) rotate(-90)" text-anchor="middle" font-size="4.3" font-weight="bold" fill="#1a1a1a" stroke="#1a1a1a" stroke-width="0.26">Relative expression</text>
<text x="247.3" y="484" text-anchor="middle" font-size="4.35" font-weight="bold" fill="#1a1a1a" stroke="#1a1a1a" stroke-width="0.26">DAFB (d)</text>
<line x1="342.25" y1="431.4" x2="342.25" y2="424.6" stroke="#2a2a2a" stroke-width="0.8"/>
<line x1="341.4" y1="424.6" x2="343.1" y2="424.6" stroke="#2a2a2a" stroke-width="0.9"/>
<rect x="340.98" y="431.82" width="2.55" height="37.68" fill="#d4d4d4" stroke="#2a2a2a" stroke-width="0.85"/>
<line x1="346.15" y1="448.2" x2="346.15" y2="445.2" stroke="#2a2a2a" stroke-width="0.8"/>
<line x1="345.3" y1="445.2" x2="347" y2="445.2" stroke="#2a2a2a" stroke-width="0.9"/>
<rect x="344.88" y="448.62" width="2.55" height="20.88" fill="#7f7f7f" stroke="#2a2a2a" stroke-width="0.85"/>
<line x1="352.65" y1="407.1" x2="352.65" y2="398.8" stroke="#2a2a2a" stroke-width="0.8"/>
<line x1="351.8" y1="398.8" x2="353.5" y2="398.8" stroke="#2a2a2a" stroke-width="0.9"/>
<rect x="351.38" y="407.53" width="2.55" height="61.97" fill="#d4d4d4" stroke="#2a2a2a" stroke-width="0.85"/>
<line x1="356.55" y1="454.7" x2="356.55" y2="454" stroke="#2a2a2a" stroke-width="0.8"/>
<line x1="355.7" y1="454" x2="357.4" y2="454" stroke="#2a2a2a" stroke-width="0.9"/>
<rect x="355.27" y="455.12" width="2.55" height="14.38" fill="#7f7f7f" stroke="#2a2a2a" stroke-width="0.85"/>
<line x1="363.05" y1="421.4" x2="363.05" y2="412.6" stroke="#2a2a2a" stroke-width="0.8"/>
<line x1="362.2" y1="412.6" x2="363.9" y2="412.6" stroke="#2a2a2a" stroke-width="0.9"/>
<rect x="361.78" y="421.82" width="2.55" height="47.68" fill="#d4d4d4" stroke="#2a2a2a" stroke-width="0.85"/>
<line x1="366.95" y1="428.9" x2="366.95" y2="423.1" stroke="#2a2a2a" stroke-width="0.8"/>
<line x1="366.1" y1="423.1" x2="367.8" y2="423.1" stroke="#2a2a2a" stroke-width="0.9"/>
<rect x="365.68" y="429.32" width="2.55" height="40.18" fill="#7f7f7f" stroke="#2a2a2a" stroke-width="0.85"/>
<line x1="373.45" y1="461.5" x2="373.45" y2="460.5" stroke="#2a2a2a" stroke-width="0.8"/>
<line x1="372.6" y1="460.5" x2="374.3" y2="460.5" stroke="#2a2a2a" stroke-width="0.9"/>
<rect x="372.18" y="461.93" width="2.55" height="7.58" fill="#d4d4d4" stroke="#2a2a2a" stroke-width="0.85"/>
<rect x="376.07" y="465.73" width="2.55" height="3.77" fill="#7f7f7f" stroke="#2a2a2a" stroke-width="0.85"/>
<line x1="383.85" y1="401.3" x2="383.85" y2="395.6" stroke="#2a2a2a" stroke-width="0.8"/>
<line x1="383" y1="395.6" x2="384.7" y2="395.6" stroke="#2a2a2a" stroke-width="0.9"/>
<rect x="382.58" y="401.73" width="2.55" height="67.77" fill="#d4d4d4" stroke="#2a2a2a" stroke-width="0.85"/>
<line x1="387.75" y1="430.2" x2="387.75" y2="420.1" stroke="#2a2a2a" stroke-width="0.8"/>
<line x1="386.9" y1="420.1" x2="388.6" y2="420.1" stroke="#2a2a2a" stroke-width="0.9"/>
<rect x="386.48" y="430.62" width="2.55" height="38.88" fill="#7f7f7f" stroke="#2a2a2a" stroke-width="0.85"/>
<line x1="394.25" y1="430.2" x2="394.25" y2="423.9" stroke="#2a2a2a" stroke-width="0.8"/>
<line x1="393.4" y1="423.9" x2="395.1" y2="423.9" stroke="#2a2a2a" stroke-width="0.9"/>
<rect x="392.98" y="430.62" width="2.55" height="38.88" fill="#d4d4d4" stroke="#2a2a2a" stroke-width="0.85"/>
<line x1="398.15" y1="444" x2="398.15" y2="437.7" stroke="#2a2a2a" stroke-width="0.8"/>
<line x1="397.3" y1="437.7" x2="399" y2="437.7" stroke="#2a2a2a" stroke-width="0.9"/>
<rect x="396.88" y="444.43" width="2.55" height="25.07" fill="#7f7f7f" stroke="#2a2a2a" stroke-width="0.85"/>
<line x1="404.65" y1="414.7" x2="404.65" y2="405.2" stroke="#2a2a2a" stroke-width="0.8"/>
<line x1="403.8" y1="405.2" x2="405.5" y2="405.2" stroke="#2a2a2a" stroke-width="0.9"/>
<rect x="403.38" y="415.12" width="2.55" height="54.38" fill="#d4d4d4" stroke="#2a2a2a" stroke-width="0.85"/>
<rect x="407.28" y="467.73" width="2.55" height="1.77" fill="#7f7f7f" stroke="#2a2a2a" stroke-width="0.85"/>
<rect x="413.35" y="468.7" width="3.4" height="0.8" fill="#2a2a2a"/>
<rect x="417.68" y="463.73" width="2.55" height="5.77" fill="#7f7f7f" stroke="#2a2a2a" stroke-width="0.85"/>
<line x1="425.45" y1="439.7" x2="425.45" y2="435.9" stroke="#2a2a2a" stroke-width="0.8"/>
<line x1="424.6" y1="435.9" x2="426.3" y2="435.9" stroke="#2a2a2a" stroke-width="0.9"/>
<rect x="424.18" y="440.12" width="2.55" height="29.38" fill="#d4d4d4" stroke="#2a2a2a" stroke-width="0.85"/>
<line x1="429.35" y1="458.5" x2="429.35" y2="455.2" stroke="#2a2a2a" stroke-width="0.8"/>
<line x1="428.5" y1="455.2" x2="430.2" y2="455.2" stroke="#2a2a2a" stroke-width="0.9"/>
<rect x="428.07" y="458.93" width="2.55" height="10.57" fill="#7f7f7f" stroke="#2a2a2a" stroke-width="0.85"/>
<rect x="434.58" y="458.93" width="2.55" height="10.57" fill="#d4d4d4" stroke="#2a2a2a" stroke-width="0.85"/>
<line x1="439.75" y1="455.2" x2="439.75" y2="452.7" stroke="#2a2a2a" stroke-width="0.8"/>
<line x1="438.9" y1="452.7" x2="440.6" y2="452.7" stroke="#2a2a2a" stroke-width="0.9"/>
<rect x="438.48" y="455.62" width="2.55" height="13.88" fill="#7f7f7f" stroke="#2a2a2a" stroke-width="0.85"/>
<line x1="446.25" y1="465.8" x2="446.25" y2="462.8" stroke="#2a2a2a" stroke-width="0.8"/>
<line x1="445.4" y1="462.8" x2="447.1" y2="462.8" stroke="#2a2a2a" stroke-width="0.9"/>
<rect x="444.98" y="466.23" width="2.55" height="3.27" fill="#d4d4d4" stroke="#2a2a2a" stroke-width="0.85"/>
<rect x="448.88" y="467.73" width="2.55" height="1.77" fill="#7f7f7f" stroke="#2a2a2a" stroke-width="0.85"/>
<rect x="454.95" y="468.7" width="3.4" height="0.8" fill="#2a2a2a"/>
<rect x="458.85" y="468.7" width="3.4" height="0.8" fill="#2a2a2a"/>
<circle cx="342.25" cy="419.6" r="1.2" fill="#1a1a1a"/>
<circle cx="352.65" cy="395" r="1.2" fill="#1a1a1a"/>
<circle cx="373.45" cy="455.2" r="1.2" fill="#1a1a1a"/>
<circle cx="383.85" cy="392.6" r="1.2" fill="#1a1a1a"/>
<circle cx="404.65" cy="401" r="1.2" fill="#1a1a1a"/>
<circle cx="415.05" cy="462.3" r="1.2" fill="#1a1a1a"/>
<circle cx="425.45" cy="430.7" r="1.2" fill="#1a1a1a"/>
<line x1="338.5" y1="385.8" x2="338.5" y2="470" stroke="#4a4a4a" stroke-width="1.1"/>
<line x1="338" y1="469.5" x2="464.2" y2="469.5" stroke="#3a3a3a" stroke-width="1"/>
<line x1="336.9" y1="385.8" x2="338.5" y2="385.8" stroke="#3a3a3a" stroke-width="0.8"/>
<text x="336.4" y="387.25" text-anchor="end" font-size="4.1" font-weight="bold" fill="#222" stroke="#222" stroke-width="0.18">0.10</text>
<line x1="336.9" y1="402.54" x2="338.5" y2="402.54" stroke="#3a3a3a" stroke-width="0.8"/>
<text x="336.4" y="403.99" text-anchor="end" font-size="4.1" font-weight="bold" fill="#222" stroke="#222" stroke-width="0.18">0.08</text>
<line x1="336.9" y1="419.28" x2="338.5" y2="419.28" stroke="#3a3a3a" stroke-width="0.8"/>
<text x="336.4" y="420.73" text-anchor="end" font-size="4.1" font-weight="bold" fill="#222" stroke="#222" stroke-width="0.18">0.06</text>
<line x1="336.9" y1="436.02" x2="338.5" y2="436.02" stroke="#3a3a3a" stroke-width="0.8"/>
<text x="336.4" y="437.47" text-anchor="end" font-size="4.1" font-weight="bold" fill="#222" stroke="#222" stroke-width="0.18">0.04</text>
<line x1="336.9" y1="452.76" x2="338.5" y2="452.76" stroke="#3a3a3a" stroke-width="0.8"/>
<text x="336.4" y="454.21" text-anchor="end" font-size="4.1" font-weight="bold" fill="#222" stroke="#222" stroke-width="0.18">0.02</text>
<line x1="336.9" y1="469.5" x2="338.5" y2="469.5" stroke="#3a3a3a" stroke-width="0.8"/>
<text x="336.4" y="470.95" text-anchor="end" font-size="4.1" font-weight="bold" fill="#222" stroke="#222" stroke-width="0.18">0.00</text>
<line x1="344.2" y1="469.5" x2="344.2" y2="471" stroke="#3a3a3a" stroke-width="0.7"/>
<text x="344.2" y="475.1" text-anchor="middle" font-size="4.1" font-weight="bold" fill="#222" stroke="#222" stroke-width="0.18">9</text>
<line x1="354.6" y1="469.5" x2="354.6" y2="471" stroke="#3a3a3a" stroke-width="0.7"/>
<text x="354.6" y="475.1" text-anchor="middle" font-size="4.1" font-weight="bold" fill="#222" stroke="#222" stroke-width="0.18">12</text>
<line x1="365" y1="469.5" x2="365" y2="471" stroke="#3a3a3a" stroke-width="0.7"/>
<text x="365" y="475.1" text-anchor="middle" font-size="4.1" font-weight="bold" fill="#222" stroke="#222" stroke-width="0.18">15</text>
<line x1="375.4" y1="469.5" x2="375.4" y2="471" stroke="#3a3a3a" stroke-width="0.7"/>
<text x="375.4" y="475.1" text-anchor="middle" font-size="4.1" font-weight="bold" fill="#222" stroke="#222" stroke-width="0.18">18</text>
<line x1="385.8" y1="469.5" x2="385.8" y2="471" stroke="#3a3a3a" stroke-width="0.7"/>
<text x="385.8" y="475.1" text-anchor="middle" font-size="4.1" font-weight="bold" fill="#222" stroke="#222" stroke-width="0.18">21</text>
<line x1="396.2" y1="469.5" x2="396.2" y2="471" stroke="#3a3a3a" stroke-width="0.7"/>
<text x="396.2" y="475.1" text-anchor="middle" font-size="4.1" font-weight="bold" fill="#222" stroke="#222" stroke-width="0.18">24</text>
<line x1="406.6" y1="469.5" x2="406.6" y2="471" stroke="#3a3a3a" stroke-width="0.7"/>
<text x="406.6" y="475.1" text-anchor="middle" font-size="4.1" font-weight="bold" fill="#222" stroke="#222" stroke-width="0.18">30</text>
<line x1="417" y1="469.5" x2="417" y2="471" stroke="#3a3a3a" stroke-width="0.7"/>
<text x="417" y="475.1" text-anchor="middle" font-size="4.1" font-weight="bold" fill="#222" stroke="#222" stroke-width="0.18">36</text>
<line x1="427.4" y1="469.5" x2="427.4" y2="471" stroke="#3a3a3a" stroke-width="0.7"/>
<text x="427.4" y="475.1" text-anchor="middle" font-size="4.1" font-weight="bold" fill="#222" stroke="#222" stroke-width="0.18">42</text>
<line x1="437.8" y1="469.5" x2="437.8" y2="471" stroke="#3a3a3a" stroke-width="0.7"/>
<text x="437.8" y="475.1" text-anchor="middle" font-size="4.1" font-weight="bold" fill="#222" stroke="#222" stroke-width="0.18">49</text>
<line x1="448.2" y1="469.5" x2="448.2" y2="471" stroke="#3a3a3a" stroke-width="0.7"/>
<text x="448.2" y="475.1" text-anchor="middle" font-size="4.1" font-weight="bold" fill="#222" stroke="#222" stroke-width="0.18">63</text>
<line x1="458.6" y1="469.5" x2="458.6" y2="471" stroke="#3a3a3a" stroke-width="0.7"/>
<text x="458.6" y="475.1" text-anchor="middle" font-size="4.1" font-weight="bold" fill="#222" stroke="#222" stroke-width="0.18">83</text>
<text x="399.7" y="386.9" text-anchor="middle" style='font-family:"Liberation Sans", sans-serif;white-space:pre' font-size="5.15" font-weight="bold" fill="#111" stroke="#111" stroke-width="0.14">CSLA4 (c34801.c0)</text>
<rect x="448.7" y="408.8" width="5.9" height="2.6" rx="0.8" fill="#e6e6e6" stroke="#222" stroke-width="1.05"/>
<text x="457.5" y="411.9" font-size="4.25" fill="#8c8c8c" stroke="#8c8c8c" stroke-width="0.2">LE</text>
<rect x="448.7" y="414.95" width="5.9" height="2.6" rx="0.8" fill="#a8a8a8" stroke="#222" stroke-width="1.05"/>
<text x="457.5" y="418.05" font-size="4.25" fill="#8c8c8c" stroke="#8c8c8c" stroke-width="0.2">JG</text>
<text x="0" y="0" transform="translate(325.1,427.5) rotate(-90)" text-anchor="middle" font-size="4.3" font-weight="bold" fill="#1a1a1a" stroke="#1a1a1a" stroke-width="0.26">Relative expression</text>
<text x="402.7" y="482.6" text-anchor="middle" font-size="4.35" font-weight="bold" fill="#1a1a1a" stroke="#1a1a1a" stroke-width="0.26">DAFB (d)</text>
<line x1="506.75" y1="437.2" x2="506.75" y2="430.7" stroke="#2a2a2a" stroke-width="0.8"/>
<line x1="505.9" y1="430.7" x2="507.6" y2="430.7" stroke="#2a2a2a" stroke-width="0.9"/>
<rect x="505.48" y="437.62" width="2.55" height="31.38" fill="#d4d4d4" stroke="#2a2a2a" stroke-width="0.85"/>
<line x1="510.65" y1="404.6" x2="510.65" y2="403.5" stroke="#2a2a2a" stroke-width="0.8"/>
<line x1="509.8" y1="403.5" x2="511.5" y2="403.5" stroke="#2a2a2a" stroke-width="0.9"/>
<rect x="509.38" y="405.03" width="2.55" height="63.97" fill="#7f7f7f" stroke="#2a2a2a" stroke-width="0.85"/>
<line x1="517.12" y1="449.7" x2="517.12" y2="449" stroke="#2a2a2a" stroke-width="0.8"/>
<line x1="516.27" y1="449" x2="517.97" y2="449" stroke="#2a2a2a" stroke-width="0.9"/>
<rect x="515.84" y="450.12" width="2.55" height="18.88" fill="#d4d4d4" stroke="#2a2a2a" stroke-width="0.85"/>
<line x1="521.02" y1="452.2" x2="521.02" y2="444.7" stroke="#2a2a2a" stroke-width="0.8"/>
<line x1="520.17" y1="444.7" x2="521.87" y2="444.7" stroke="#2a2a2a" stroke-width="0.9"/>
<rect x="519.74" y="452.62" width="2.55" height="16.38" fill="#7f7f7f" stroke="#2a2a2a" stroke-width="0.85"/>
<line x1="527.49" y1="424.6" x2="527.49" y2="415.1" stroke="#2a2a2a" stroke-width="0.8"/>
<line x1="526.64" y1="415.1" x2="528.34" y2="415.1" stroke="#2a2a2a" stroke-width="0.9"/>
<rect x="526.21" y="425.03" width="2.55" height="43.97" fill="#d4d4d4" stroke="#2a2a2a" stroke-width="0.85"/>
<line x1="531.39" y1="449.7" x2="531.39" y2="445.2" stroke="#2a2a2a" stroke-width="0.8"/>
<line x1="530.54" y1="445.2" x2="532.24" y2="445.2" stroke="#2a2a2a" stroke-width="0.9"/>
<rect x="530.11" y="450.12" width="2.55" height="18.88" fill="#7f7f7f" stroke="#2a2a2a" stroke-width="0.85"/>
<line x1="537.86" y1="411.4" x2="537.86" y2="407.1" stroke="#2a2a2a" stroke-width="0.8"/>
<line x1="537.01" y1="407.1" x2="538.71" y2="407.1" stroke="#2a2a2a" stroke-width="0.9"/>
<rect x="536.58" y="411.82" width="2.55" height="57.18" fill="#d4d4d4" stroke="#2a2a2a" stroke-width="0.85"/>
<line x1="541.76" y1="431.4" x2="541.76" y2="423.1" stroke="#2a2a2a" stroke-width="0.8"/>
<line x1="540.91" y1="423.1" x2="542.61" y2="423.1" stroke="#2a2a2a" stroke-width="0.9"/>
<rect x="540.48" y="431.82" width="2.55" height="37.18" fill="#7f7f7f" stroke="#2a2a2a" stroke-width="0.85"/>
<line x1="548.23" y1="403.3" x2="548.23" y2="398.8" stroke="#2a2a2a" stroke-width="0.8"/>
<line x1="547.38" y1="398.8" x2="549.08" y2="398.8" stroke="#2a2a2a" stroke-width="0.9"/>
<rect x="546.95" y="403.73" width="2.55" height="65.27" fill="#d4d4d4" stroke="#2a2a2a" stroke-width="0.85"/>
<line x1="552.13" y1="423.1" x2="552.13" y2="416.4" stroke="#2a2a2a" stroke-width="0.8"/>
<line x1="551.28" y1="416.4" x2="552.98" y2="416.4" stroke="#2a2a2a" stroke-width="0.9"/>
<rect x="550.85" y="423.53" width="2.55" height="45.47" fill="#7f7f7f" stroke="#2a2a2a" stroke-width="0.85"/>
<line x1="558.6" y1="459" x2="558.6" y2="455.8" stroke="#2a2a2a" stroke-width="0.8"/>
<line x1="557.75" y1="455.8" x2="559.45" y2="455.8" stroke="#2a2a2a" stroke-width="0.9"/>
<rect x="557.32" y="459.43" width="2.55" height="9.57" fill="#d4d4d4" stroke="#2a2a2a" stroke-width="0.85"/>
<line x1="562.5" y1="453.2" x2="562.5" y2="452" stroke="#2a2a2a" stroke-width="0.8"/>
<line x1="561.65" y1="452" x2="563.35" y2="452" stroke="#2a2a2a" stroke-width="0.9"/>
<rect x="561.22" y="453.62" width="2.55" height="15.38" fill="#7f7f7f" stroke="#2a2a2a" stroke-width="0.85"/>
<rect x="567.69" y="465.73" width="2.55" height="3.27" fill="#d4d4d4" stroke="#2a2a2a" stroke-width="0.85"/>
<rect x="571.59" y="467.43" width="2.55" height="1.57" fill="#7f7f7f" stroke="#2a2a2a" stroke-width="0.85"/>
<rect x="578.06" y="466.93" width="2.55" height="2.08" fill="#d4d4d4" stroke="#2a2a2a" stroke-width="0.85"/>
<line x1="583.24" y1="463.3" x2="583.24" y2="462.3" stroke="#2a2a2a" stroke-width="0.8"/>
<line x1="582.39" y1="462.3" x2="584.09" y2="462.3" stroke="#2a2a2a" stroke-width="0.9"/>
<rect x="581.96" y="463.73" width="2.55" height="5.27" fill="#7f7f7f" stroke="#2a2a2a" stroke-width="0.85"/>
<line x1="589.71" y1="454.5" x2="589.71" y2="449.7" stroke="#2a2a2a" stroke-width="0.8"/>
<line x1="588.86" y1="449.7" x2="590.56" y2="449.7" stroke="#2a2a2a" stroke-width="0.9"/>
<rect x="588.43" y="454.93" width="2.55" height="14.07" fill="#d4d4d4" stroke="#2a2a2a" stroke-width="0.85"/>
<line x1="593.61" y1="460.3" x2="593.61" y2="455.8" stroke="#2a2a2a" stroke-width="0.8"/>
<line x1="592.76" y1="455.8" x2="594.46" y2="455.8" stroke="#2a2a2a" stroke-width="0.9"/>
<rect x="592.33" y="460.73" width="2.55" height="8.27" fill="#7f7f7f" stroke="#2a2a2a" stroke-width="0.85"/>
<line x1="600.08" y1="460.3" x2="600.08" y2="459.5" stroke="#2a2a2a" stroke-width="0.8"/>
<line x1="599.23" y1="459.5" x2="600.93" y2="459.5" stroke="#2a2a2a" stroke-width="0.9"/>
<rect x="598.8" y="460.73" width="2.55" height="8.27" fill="#d4d4d4" stroke="#2a2a2a" stroke-width="0.85"/>
<line x1="603.98" y1="462.8" x2="603.98" y2="461.5" stroke="#2a2a2a" stroke-width="0.8"/>
<line x1="603.13" y1="461.5" x2="604.83" y2="461.5" stroke="#2a2a2a" stroke-width="0.9"/>
<rect x="602.7" y="463.23" width="2.55" height="5.77" fill="#7f7f7f" stroke="#2a2a2a" stroke-width="0.85"/>
<rect x="608.75" y="468.2" width="3.4" height="0.8" fill="#2a2a2a"/>
<line x1="614.35" y1="460.8" x2="614.35" y2="459" stroke="#2a2a2a" stroke-width="0.8"/>
<line x1="613.5" y1="459" x2="615.2" y2="459" stroke="#2a2a2a" stroke-width="0.9"/>
<rect x="613.07" y="461.23" width="2.55" height="7.77" fill="#7f7f7f" stroke="#2a2a2a" stroke-width="0.85"/>
<line x1="620.82" y1="455.2" x2="620.82" y2="454.5" stroke="#2a2a2a" stroke-width="0.8"/>
<line x1="619.97" y1="454.5" x2="621.67" y2="454.5" stroke="#2a2a2a" stroke-width="0.9"/>
<rect x="619.54" y="455.62" width="2.55" height="13.38" fill="#d4d4d4" stroke="#2a2a2a" stroke-width="0.85"/>
<line x1="624.72" y1="447.7" x2="624.72" y2="442.2" stroke="#2a2a2a" stroke-width="0.8"/>
<line x1="623.87" y1="442.2" x2="625.57" y2="442.2" stroke="#2a2a2a" stroke-width="0.9"/>
<rect x="623.44" y="448.12" width="2.55" height="20.88" fill="#7f7f7f" stroke="#2a2a2a" stroke-width="0.85"/>
<circle cx="506.75" cy="423.9" r="1.2" fill="#1a1a1a"/>
<circle cx="527.49" cy="409.4" r="1.2" fill="#1a1a1a"/>
<circle cx="537.86" cy="402.1" r="1.2" fill="#1a1a1a"/>
<circle cx="548.23" cy="394.6" r="1.2" fill="#1a1a1a"/>
<circle cx="579.34" cy="458.2" r="1.2" fill="#1a1a1a"/>
<circle cx="610.45" cy="459.5" r="1.2" fill="#1a1a1a"/>
<line x1="503.1" y1="384.5" x2="503.1" y2="469.5" stroke="#4a4a4a" stroke-width="1.1"/>
<line x1="502.6" y1="469" x2="628.3" y2="469" stroke="#3a3a3a" stroke-width="1"/>
<line x1="501.5" y1="384.5" x2="503.1" y2="384.5" stroke="#3a3a3a" stroke-width="0.8"/>
<text x="501" y="385.95" text-anchor="end" font-size="4.1" font-weight="bold" fill="#222" stroke="#222" stroke-width="0.18">0.10</text>
<line x1="501.5" y1="401.4" x2="503.1" y2="401.4" stroke="#3a3a3a" stroke-width="0.8"/>
<text x="501" y="402.85" text-anchor="end" font-size="4.1" font-weight="bold" fill="#222" stroke="#222" stroke-width="0.18">0.08</text>
<line x1="501.5" y1="418.3" x2="503.1" y2="418.3" stroke="#3a3a3a" stroke-width="0.8"/>
<text x="501" y="419.75" text-anchor="end" font-size="4.1" font-weight="bold" fill="#222" stroke="#222" stroke-width="0.18">0.06</text>
<line x1="501.5" y1="435.2" x2="503.1" y2="435.2" stroke="#3a3a3a" stroke-width="0.8"/>
<text x="501" y="436.65" text-anchor="end" font-size="4.1" font-weight="bold" fill="#222" stroke="#222" stroke-width="0.18">0.04</text>
<line x1="501.5" y1="452.1" x2="503.1" y2="452.1" stroke="#3a3a3a" stroke-width="0.8"/>
<text x="501" y="453.55" text-anchor="end" font-size="4.1" font-weight="bold" fill="#222" stroke="#222" stroke-width="0.18">0.02</text>
<line x1="501.5" y1="469" x2="503.1" y2="469" stroke="#3a3a3a" stroke-width="0.8"/>
<text x="501" y="470.45" text-anchor="end" font-size="4.1" font-weight="bold" fill="#222" stroke="#222" stroke-width="0.18">0.00</text>
<line x1="508.7" y1="469" x2="508.7" y2="470.5" stroke="#3a3a3a" stroke-width="0.7"/>
<text x="508.7" y="474.6" text-anchor="middle" font-size="4.1" font-weight="bold" fill="#222" stroke="#222" stroke-width="0.18">9</text>
<line x1="519.07" y1="469" x2="519.07" y2="470.5" stroke="#3a3a3a" stroke-width="0.7"/>
<text x="519.07" y="474.6" text-anchor="middle" font-size="4.1" font-weight="bold" fill="#222" stroke="#222" stroke-width="0.18">12</text>
<line x1="529.44" y1="469" x2="529.44" y2="470.5" stroke="#3a3a3a" stroke-width="0.7"/>
<text x="529.44" y="474.6" text-anchor="middle" font-size="4.1" font-weight="bold" fill="#222" stroke="#222" stroke-width="0.18">15</text>
<line x1="539.81" y1="469" x2="539.81" y2="470.5" stroke="#3a3a3a" stroke-width="0.7"/>
<text x="539.81" y="474.6" text-anchor="middle" font-size="4.1" font-weight="bold" fill="#222" stroke="#222" stroke-width="0.18">18</text>
<line x1="550.18" y1="469" x2="550.18" y2="470.5" stroke="#3a3a3a" stroke-width="0.7"/>
<text x="550.18" y="474.6" text-anchor="middle" font-size="4.1" font-weight="bold" fill="#222" stroke="#222" stroke-width="0.18">21</text>
<line x1="560.55" y1="469" x2="560.55" y2="470.5" stroke="#3a3a3a" stroke-width="0.7"/>
<text x="560.55" y="474.6" text-anchor="middle" font-size="4.1" font-weight="bold" fill="#222" stroke="#222" stroke-width="0.18">24</text>
<line x1="570.92" y1="469" x2="570.92" y2="470.5" stroke="#3a3a3a" stroke-width="0.7"/>
<text x="570.92" y="474.6" text-anchor="middle" font-size="4.1" font-weight="bold" fill="#222" stroke="#222" stroke-width="0.18">30</text>
<line x1="581.29" y1="469" x2="581.29" y2="470.5" stroke="#3a3a3a" stroke-width="0.7"/>
<text x="581.29" y="474.6" text-anchor="middle" font-size="4.1" font-weight="bold" fill="#222" stroke="#222" stroke-width="0.18">36</text>
<line x1="591.66" y1="469" x2="591.66" y2="470.5" stroke="#3a3a3a" stroke-width="0.7"/>
<text x="591.66" y="474.6" text-anchor="middle" font-size="4.1" font-weight="bold" fill="#222" stroke="#222" stroke-width="0.18">42</text>
<line x1="602.03" y1="469" x2="602.03" y2="470.5" stroke="#3a3a3a" stroke-width="0.7"/>
<text x="602.03" y="474.6" text-anchor="middle" font-size="4.1" font-weight="bold" fill="#222" stroke="#222" stroke-width="0.18">49</text>
<line x1="612.4" y1="469" x2="612.4" y2="470.5" stroke="#3a3a3a" stroke-width="0.7"/>
<text x="612.4" y="474.6" text-anchor="middle" font-size="4.1" font-weight="bold" fill="#222" stroke="#222" stroke-width="0.18">63</text>
<line x1="622.77" y1="469" x2="622.77" y2="470.5" stroke="#3a3a3a" stroke-width="0.7"/>
<text x="622.77" y="474.6" text-anchor="middle" font-size="4.1" font-weight="bold" fill="#222" stroke="#222" stroke-width="0.18">83</text>
<text x="566.2" y="386.2" text-anchor="middle" style='font-family:"Liberation Sans", sans-serif;white-space:pre' font-size="5.15" font-weight="bold" fill="#111" stroke="#111" stroke-width="0.14">Xyloglucan  galactosytransferase KATAMARI1</text>
<text x="566.2" y="391.9" text-anchor="middle" style='font-family:"Liberation Sans", sans-serif;white-space:pre' font-size="5.15" font-weight="bold" fill="#111" stroke="#111" stroke-width="0.14">(c43674.c0)</text>
<rect x="610.9" y="408.7" width="5.9" height="2.6" rx="0.8" fill="#e6e6e6" stroke="#222" stroke-width="1.05"/>
<text x="619.7" y="411.8" font-size="4.25" fill="#8c8c8c" stroke="#8c8c8c" stroke-width="0.2">LE</text>
<rect x="610.9" y="414.85" width="5.9" height="2.6" rx="0.8" fill="#a8a8a8" stroke="#222" stroke-width="1.05"/>
<text x="619.7" y="417.95" font-size="4.25" fill="#8c8c8c" stroke="#8c8c8c" stroke-width="0.2">JG</text>
<text x="0" y="0" transform="translate(489.8,430) rotate(-90)" text-anchor="middle" font-size="4.3" font-weight="bold" fill="#1a1a1a" stroke="#1a1a1a" stroke-width="0.26">Relative expression</text>
<text x="564.1" y="484" text-anchor="middle" font-size="4.35" font-weight="bold" fill="#1a1a1a" stroke="#1a1a1a" stroke-width="0.26">DAFB (d)</text>
<line x1="30.45" y1="562.2" x2="30.45" y2="557.7" stroke="#2a2a2a" stroke-width="0.8"/>
<line x1="29.6" y1="557.7" x2="31.3" y2="557.7" stroke="#2a2a2a" stroke-width="0.9"/>
<rect x="29.18" y="562.62" width="2.55" height="20.67" fill="#d4d4d4" stroke="#2a2a2a" stroke-width="0.85"/>
<line x1="34.35" y1="571.5" x2="34.35" y2="570" stroke="#2a2a2a" stroke-width="0.8"/>
<line x1="33.5" y1="570" x2="35.2" y2="570" stroke="#2a2a2a" stroke-width="0.9"/>
<rect x="33.07" y="571.92" width="2.55" height="11.37" fill="#7f7f7f" stroke="#2a2a2a" stroke-width="0.85"/>
<rect x="39.57" y="581.22" width="2.55" height="2.08" fill="#d4d4d4" stroke="#2a2a2a" stroke-width="0.85"/>
<line x1="44.75" y1="575.8" x2="44.75" y2="574" stroke="#2a2a2a" stroke-width="0.8"/>
<line x1="43.9" y1="574" x2="45.6" y2="574" stroke="#2a2a2a" stroke-width="0.9"/>
<rect x="43.47" y="576.22" width="2.55" height="7.08" fill="#7f7f7f" stroke="#2a2a2a" stroke-width="0.85"/>
<line x1="51.25" y1="547.2" x2="51.25" y2="546.5" stroke="#2a2a2a" stroke-width="0.8"/>
<line x1="50.4" y1="546.5" x2="52.1" y2="546.5" stroke="#2a2a2a" stroke-width="0.9"/>
<rect x="49.98" y="547.62" width="2.55" height="35.67" fill="#d4d4d4" stroke="#2a2a2a" stroke-width="0.85"/>
<line x1="55.15" y1="569.7" x2="55.15" y2="564" stroke="#2a2a2a" stroke-width="0.8"/>
<line x1="54.3" y1="564" x2="56" y2="564" stroke="#2a2a2a" stroke-width="0.9"/>
<rect x="53.88" y="570.12" width="2.55" height="13.17" fill="#7f7f7f" stroke="#2a2a2a" stroke-width="0.85"/>
<line x1="61.65" y1="523.9" x2="61.65" y2="517.1" stroke="#2a2a2a" stroke-width="0.8"/>
<line x1="60.8" y1="517.1" x2="62.5" y2="517.1" stroke="#2a2a2a" stroke-width="0.9"/>
<rect x="60.38" y="524.32" width="2.55" height="58.97" fill="#d4d4d4" stroke="#2a2a2a" stroke-width="0.85"/>
<rect x="64.28" y="558.12" width="2.55" height="25.17" fill="#7f7f7f" stroke="#2a2a2a" stroke-width="0.85"/>
<line x1="72.05" y1="537.6" x2="72.05" y2="528.9" stroke="#2a2a2a" stroke-width="0.8"/>
<line x1="71.2" y1="528.9" x2="72.9" y2="528.9" stroke="#2a2a2a" stroke-width="0.9"/>
<rect x="70.77" y="538.02" width="2.55" height="45.27" fill="#d4d4d4" stroke="#2a2a2a" stroke-width="0.85"/>
<line x1="75.95" y1="553.9" x2="75.95" y2="550.2" stroke="#2a2a2a" stroke-width="0.8"/>
<line x1="75.1" y1="550.2" x2="76.8" y2="550.2" stroke="#2a2a2a" stroke-width="0.9"/>
<rect x="74.67" y="554.32" width="2.55" height="28.97" fill="#7f7f7f" stroke="#2a2a2a" stroke-width="0.85"/>
<rect x="80.75" y="582.5" width="3.4" height="0.8" fill="#2a2a2a"/>
<rect x="85.08" y="579.92" width="2.55" height="3.37" fill="#7f7f7f" stroke="#2a2a2a" stroke-width="0.85"/>
<rect x="91.15" y="582.5" width="3.4" height="0.8" fill="#2a2a2a"/>
<rect x="95.48" y="581.22" width="2.55" height="2.08" fill="#7f7f7f" stroke="#2a2a2a" stroke-width="0.85"/>
<rect x="101.97" y="577.72" width="2.55" height="5.58" fill="#d4d4d4" stroke="#2a2a2a" stroke-width="0.85"/>
<rect x="105.87" y="582.72" width="2.55" height="0.57" fill="#7f7f7f" stroke="#2a2a2a" stroke-width="0.85"/>
<rect x="112.37" y="581.22" width="2.55" height="2.08" fill="#d4d4d4" stroke="#2a2a2a" stroke-width="0.85"/>
<line x1="117.55" y1="568.2" x2="117.55" y2="564.7" stroke="#2a2a2a" stroke-width="0.8"/>
<line x1="116.7" y1="564.7" x2="118.4" y2="564.7" stroke="#2a2a2a" stroke-width="0.9"/>
<rect x="116.27" y="568.62" width="2.55" height="14.67" fill="#7f7f7f" stroke="#2a2a2a" stroke-width="0.85"/>
<rect x="122.77" y="580.72" width="2.55" height="2.58" fill="#d4d4d4" stroke="#2a2a2a" stroke-width="0.85"/>
<line x1="127.95" y1="561.5" x2="127.95" y2="556.4" stroke="#2a2a2a" stroke-width="0.8"/>
<line x1="127.1" y1="556.4" x2="128.8" y2="556.4" stroke="#2a2a2a" stroke-width="0.9"/>
<rect x="126.67" y="561.92" width="2.55" height="21.37" fill="#7f7f7f" stroke="#2a2a2a" stroke-width="0.85"/>
<rect x="132.75" y="582.5" width="3.4" height="0.8" fill="#2a2a2a"/>
<rect x="136.65" y="582.5" width="3.4" height="0.8" fill="#2a2a2a"/>
<rect x="143.58" y="582.92" width="2.55" height="0.37" fill="#d4d4d4" stroke="#2a2a2a" stroke-width="0.85"/>
<rect x="147.48" y="581.22" width="2.55" height="2.08" fill="#7f7f7f" stroke="#2a2a2a" stroke-width="0.85"/>
<circle cx="30.45" cy="551.4" r="1.2" fill="#1a1a1a"/>
<circle cx="40.85" cy="573.2" r="1.2" fill="#1a1a1a"/>
<circle cx="51.25" cy="541.4" r="1.2" fill="#1a1a1a"/>
<circle cx="61.65" cy="513.3" r="1.2" fill="#1a1a1a"/>
<circle cx="72.05" cy="523.9" r="1.2" fill="#1a1a1a"/>
<circle cx="82.45" cy="576.5" r="1.2" fill="#1a1a1a"/>
<circle cx="113.65" cy="574" r="1.2" fill="#1a1a1a"/>
<circle cx="124.05" cy="572.2" r="1.2" fill="#1a1a1a"/>
<line x1="26.6" y1="499.5" x2="26.6" y2="583.8" stroke="#8a8a8a" stroke-width="1.9"/>
<line x1="26.1" y1="583.3" x2="152.5" y2="583.3" stroke="#3a3a3a" stroke-width="1"/>
<line x1="25" y1="499.5" x2="26.6" y2="499.5" stroke="#3a3a3a" stroke-width="0.8"/>
<text x="24.5" y="500.95" text-anchor="end" font-size="4.1" font-weight="bold" fill="#222" stroke="#222" stroke-width="0.18">0.15</text>
<line x1="25" y1="527.43" x2="26.6" y2="527.43" stroke="#3a3a3a" stroke-width="0.8"/>
<text x="24.5" y="528.88" text-anchor="end" font-size="4.1" font-weight="bold" fill="#222" stroke="#222" stroke-width="0.18">0.10</text>
<line x1="25" y1="555.37" x2="26.6" y2="555.37" stroke="#3a3a3a" stroke-width="0.8"/>
<text x="24.5" y="556.82" text-anchor="end" font-size="4.1" font-weight="bold" fill="#222" stroke="#222" stroke-width="0.18">0.05</text>
<line x1="25" y1="583.3" x2="26.6" y2="583.3" stroke="#3a3a3a" stroke-width="0.8"/>
<text x="24.5" y="584.75" text-anchor="end" font-size="4.1" font-weight="bold" fill="#222" stroke="#222" stroke-width="0.18">0.00</text>
<line x1="32.4" y1="583.3" x2="32.4" y2="584.8" stroke="#3a3a3a" stroke-width="0.7"/>
<text x="32.4" y="588.9" text-anchor="middle" font-size="4.1" font-weight="bold" fill="#222" stroke="#222" stroke-width="0.18">9</text>
<line x1="42.8" y1="583.3" x2="42.8" y2="584.8" stroke="#3a3a3a" stroke-width="0.7"/>
<text x="42.8" y="588.9" text-anchor="middle" font-size="4.1" font-weight="bold" fill="#222" stroke="#222" stroke-width="0.18">12</text>
<line x1="53.2" y1="583.3" x2="53.2" y2="584.8" stroke="#3a3a3a" stroke-width="0.7"/>
<text x="53.2" y="588.9" text-anchor="middle" font-size="4.1" font-weight="bold" fill="#222" stroke="#222" stroke-width="0.18">15</text>
<line x1="63.6" y1="583.3" x2="63.6" y2="584.8" stroke="#3a3a3a" stroke-width="0.7"/>
<text x="63.6" y="588.9" text-anchor="middle" font-size="4.1" font-weight="bold" fill="#222" stroke="#222" stroke-width="0.18">18</text>
<line x1="74" y1="583.3" x2="74" y2="584.8" stroke="#3a3a3a" stroke-width="0.7"/>
<text x="74" y="588.9" text-anchor="middle" font-size="4.1" font-weight="bold" fill="#222" stroke="#222" stroke-width="0.18">21</text>
<line x1="84.4" y1="583.3" x2="84.4" y2="584.8" stroke="#3a3a3a" stroke-width="0.7"/>
<text x="84.4" y="588.9" text-anchor="middle" font-size="4.1" font-weight="bold" fill="#222" stroke="#222" stroke-width="0.18">24</text>
<line x1="94.8" y1="583.3" x2="94.8" y2="584.8" stroke="#3a3a3a" stroke-width="0.7"/>
<text x="94.8" y="588.9" text-anchor="middle" font-size="4.1" font-weight="bold" fill="#222" stroke="#222" stroke-width="0.18">30</text>
<line x1="105.2" y1="583.3" x2="105.2" y2="584.8" stroke="#3a3a3a" stroke-width="0.7"/>
<text x="105.2" y="588.9" text-anchor="middle" font-size="4.1" font-weight="bold" fill="#222" stroke="#222" stroke-width="0.18">36</text>
<line x1="115.6" y1="583.3" x2="115.6" y2="584.8" stroke="#3a3a3a" stroke-width="0.7"/>
<text x="115.6" y="588.9" text-anchor="middle" font-size="4.1" font-weight="bold" fill="#222" stroke="#222" stroke-width="0.18">42</text>
<line x1="126" y1="583.3" x2="126" y2="584.8" stroke="#3a3a3a" stroke-width="0.7"/>
<text x="126" y="588.9" text-anchor="middle" font-size="4.1" font-weight="bold" fill="#222" stroke="#222" stroke-width="0.18">49</text>
<line x1="136.4" y1="583.3" x2="136.4" y2="584.8" stroke="#3a3a3a" stroke-width="0.7"/>
<text x="136.4" y="588.9" text-anchor="middle" font-size="4.1" font-weight="bold" fill="#222" stroke="#222" stroke-width="0.18">63</text>
<line x1="146.8" y1="583.3" x2="146.8" y2="584.8" stroke="#3a3a3a" stroke-width="0.7"/>
<text x="146.8" y="588.9" text-anchor="middle" font-size="4.1" font-weight="bold" fill="#222" stroke="#222" stroke-width="0.18">83</text>
<text x="89" y="501.2" text-anchor="middle" style='font-family:"Liberation Sans", sans-serif;white-space:pre' font-size="5.15" font-weight="bold" fill="#111" stroke="#111" stroke-width="0.14">ARR5 (c41097.c0)</text>
<rect x="135.5" y="532.2" width="5.9" height="2.6" rx="0.8" fill="#e6e6e6" stroke="#222" stroke-width="1.05"/>
<text x="144.3" y="535.3" font-size="4.25" fill="#8c8c8c" stroke="#8c8c8c" stroke-width="0.2">LE</text>
<rect x="135.5" y="538.35" width="5.9" height="2.6" rx="0.8" fill="#a8a8a8" stroke="#222" stroke-width="1.05"/>
<text x="144.3" y="541.45" font-size="4.25" fill="#8c8c8c" stroke="#8c8c8c" stroke-width="0.2">JG</text>
<text x="0" y="0" transform="translate(11.85,541.5) rotate(-90)" text-anchor="middle" font-size="4.3" font-weight="bold" fill="#1a1a1a" stroke="#1a1a1a" stroke-width="0.26">Relative expression</text>
<text x="90.4" y="597.6" text-anchor="middle" font-size="4.35" font-weight="bold" fill="#1a1a1a" stroke="#1a1a1a" stroke-width="0.26">DAFB (d)</text>
<line x1="187.05" y1="563.2" x2="187.05" y2="562.3" stroke="#2a2a2a" stroke-width="0.8"/>
<line x1="186.2" y1="562.3" x2="187.9" y2="562.3" stroke="#2a2a2a" stroke-width="0.9"/>
<rect x="185.78" y="563.62" width="2.55" height="19.67" fill="#d4d4d4" stroke="#2a2a2a" stroke-width="0.85"/>
<line x1="190.95" y1="564" x2="190.95" y2="563" stroke="#2a2a2a" stroke-width="0.8"/>
<line x1="190.1" y1="563" x2="191.8" y2="563" stroke="#2a2a2a" stroke-width="0.9"/>
<rect x="189.68" y="564.42" width="2.55" height="18.87" fill="#7f7f7f" stroke="#2a2a2a" stroke-width="0.85"/>
<rect x="196.19" y="581.22" width="2.55" height="2.08" fill="#d4d4d4" stroke="#2a2a2a" stroke-width="0.85"/>
<line x1="201.37" y1="576.5" x2="201.37" y2="575.8" stroke="#2a2a2a" stroke-width="0.8"/>
<line x1="200.52" y1="575.8" x2="202.22" y2="575.8" stroke="#2a2a2a" stroke-width="0.9"/>
<rect x="200.09" y="576.92" width="2.55" height="6.37" fill="#7f7f7f" stroke="#2a2a2a" stroke-width="0.85"/>
<line x1="207.89" y1="522.1" x2="207.89" y2="517.6" stroke="#2a2a2a" stroke-width="0.8"/>
<line x1="207.04" y1="517.6" x2="208.74" y2="517.6" stroke="#2a2a2a" stroke-width="0.9"/>
<rect x="206.62" y="522.52" width="2.55" height="60.77" fill="#d4d4d4" stroke="#2a2a2a" stroke-width="0.85"/>
<line x1="211.79" y1="559.7" x2="211.79" y2="552.2" stroke="#2a2a2a" stroke-width="0.8"/>
<line x1="210.94" y1="552.2" x2="212.64" y2="552.2" stroke="#2a2a2a" stroke-width="0.9"/>
<rect x="210.52" y="560.12" width="2.55" height="23.17" fill="#7f7f7f" stroke="#2a2a2a" stroke-width="0.85"/>
<line x1="218.31" y1="571.5" x2="218.31" y2="567.7" stroke="#2a2a2a" stroke-width="0.8"/>
<line x1="217.46" y1="567.7" x2="219.16" y2="567.7" stroke="#2a2a2a" stroke-width="0.9"/>
<rect x="217.03" y="571.92" width="2.55" height="11.37" fill="#d4d4d4" stroke="#2a2a2a" stroke-width="0.85"/>
<rect x="220.94" y="582.42" width="2.55" height="0.87" fill="#7f7f7f" stroke="#2a2a2a" stroke-width="0.85"/>
<line x1="228.73" y1="575.3" x2="228.73" y2="574.5" stroke="#2a2a2a" stroke-width="0.8"/>
<line x1="227.88" y1="574.5" x2="229.58" y2="574.5" stroke="#2a2a2a" stroke-width="0.9"/>
<rect x="227.46" y="575.72" width="2.55" height="7.58" fill="#d4d4d4" stroke="#2a2a2a" stroke-width="0.85"/>
<rect x="231.36" y="580.72" width="2.55" height="2.58" fill="#7f7f7f" stroke="#2a2a2a" stroke-width="0.85"/>
<rect x="237.88" y="581.92" width="2.55" height="1.37" fill="#d4d4d4" stroke="#2a2a2a" stroke-width="0.85"/>
<rect x="241.78" y="581.42" width="2.55" height="1.87" fill="#7f7f7f" stroke="#2a2a2a" stroke-width="0.85"/>
<rect x="248.29" y="582.72" width="2.55" height="0.57" fill="#d4d4d4" stroke="#2a2a2a" stroke-width="0.85"/>
<rect x="252.19" y="582.92" width="2.55" height="0.37" fill="#7f7f7f" stroke="#2a2a2a" stroke-width="0.85"/>
<rect x="258.72" y="582.72" width="2.55" height="0.57" fill="#d4d4d4" stroke="#2a2a2a" stroke-width="0.85"/>
<rect x="262.62" y="578.22" width="2.55" height="5.08" fill="#7f7f7f" stroke="#2a2a2a" stroke-width="0.85"/>
<rect x="268.71" y="582.5" width="3.4" height="0.8" fill="#2a2a2a"/>
<rect x="272.61" y="582.5" width="3.4" height="0.8" fill="#2a2a2a"/>
<rect x="279.56" y="582.72" width="2.55" height="0.57" fill="#d4d4d4" stroke="#2a2a2a" stroke-width="0.85"/>
<rect x="283.45" y="579.42" width="2.55" height="3.87" fill="#7f7f7f" stroke="#2a2a2a" stroke-width="0.85"/>
<rect x="289.55" y="582.5" width="3.4" height="0.8" fill="#2a2a2a"/>
<rect x="293.45" y="582.5" width="3.4" height="0.8" fill="#2a2a2a"/>
<rect x="300.4" y="582.92" width="2.55" height="0.37" fill="#d4d4d4" stroke="#2a2a2a" stroke-width="0.85"/>
<rect x="304.3" y="580.72" width="2.55" height="2.58" fill="#7f7f7f" stroke="#2a2a2a" stroke-width="0.85"/>
<circle cx="197.47" cy="574.8" r="1.2" fill="#1a1a1a"/>
<circle cx="207.89" cy="513.8" r="1.2" fill="#1a1a1a"/>
<circle cx="218.31" cy="563.5" r="1.2" fill="#1a1a1a"/>
<circle cx="228.73" cy="569.7" r="1.2" fill="#1a1a1a"/>
<circle cx="259.99" cy="576.5" r="1.2" fill="#1a1a1a"/>
<circle cx="280.83" cy="577.8" r="1.2" fill="#1a1a1a"/>
<line x1="183.6" y1="499.5" x2="183.6" y2="583.8" stroke="#4a4a4a" stroke-width="1.1"/>
<line x1="183.1" y1="583.3" x2="309.2" y2="583.3" stroke="#3a3a3a" stroke-width="1"/>
<line x1="182" y1="499.5" x2="183.6" y2="499.5" stroke="#3a3a3a" stroke-width="0.8"/>
<text x="181.5" y="500.95" text-anchor="end" font-size="4.1" font-weight="bold" fill="#222" stroke="#222" stroke-width="0.18">1.0</text>
<line x1="182" y1="516.26" x2="183.6" y2="516.26" stroke="#3a3a3a" stroke-width="0.8"/>
<text x="181.5" y="517.71" text-anchor="end" font-size="4.1" font-weight="bold" fill="#222" stroke="#222" stroke-width="0.18">0.8</text>
<line x1="182" y1="533.02" x2="183.6" y2="533.02" stroke="#3a3a3a" stroke-width="0.8"/>
<text x="181.5" y="534.47" text-anchor="end" font-size="4.1" font-weight="bold" fill="#222" stroke="#222" stroke-width="0.18">0.6</text>
<line x1="182" y1="549.78" x2="183.6" y2="549.78" stroke="#3a3a3a" stroke-width="0.8"/>
<text x="181.5" y="551.23" text-anchor="end" font-size="4.1" font-weight="bold" fill="#222" stroke="#222" stroke-width="0.18">0.4</text>
<line x1="182" y1="566.54" x2="183.6" y2="566.54" stroke="#3a3a3a" stroke-width="0.8"/>
<text x="181.5" y="567.99" text-anchor="end" font-size="4.1" font-weight="bold" fill="#222" stroke="#222" stroke-width="0.18">0.2</text>
<line x1="182" y1="583.3" x2="183.6" y2="583.3" stroke="#3a3a3a" stroke-width="0.8"/>
<text x="181.5" y="584.75" text-anchor="end" font-size="4.1" font-weight="bold" fill="#222" stroke="#222" stroke-width="0.18">0.0</text>
<line x1="189" y1="583.3" x2="189" y2="584.8" stroke="#3a3a3a" stroke-width="0.7"/>
<text x="189" y="588.9" text-anchor="middle" font-size="4.1" font-weight="bold" fill="#222" stroke="#222" stroke-width="0.18">9</text>
<line x1="199.42" y1="583.3" x2="199.42" y2="584.8" stroke="#3a3a3a" stroke-width="0.7"/>
<text x="199.42" y="588.9" text-anchor="middle" font-size="4.1" font-weight="bold" fill="#222" stroke="#222" stroke-width="0.18">12</text>
<line x1="209.84" y1="583.3" x2="209.84" y2="584.8" stroke="#3a3a3a" stroke-width="0.7"/>
<text x="209.84" y="588.9" text-anchor="middle" font-size="4.1" font-weight="bold" fill="#222" stroke="#222" stroke-width="0.18">15</text>
<line x1="220.26" y1="583.3" x2="220.26" y2="584.8" stroke="#3a3a3a" stroke-width="0.7"/>
<text x="220.26" y="588.9" text-anchor="middle" font-size="4.1" font-weight="bold" fill="#222" stroke="#222" stroke-width="0.18">18</text>
<line x1="230.68" y1="583.3" x2="230.68" y2="584.8" stroke="#3a3a3a" stroke-width="0.7"/>
<text x="230.68" y="588.9" text-anchor="middle" font-size="4.1" font-weight="bold" fill="#222" stroke="#222" stroke-width="0.18">21</text>
<line x1="241.1" y1="583.3" x2="241.1" y2="584.8" stroke="#3a3a3a" stroke-width="0.7"/>
<text x="241.1" y="588.9" text-anchor="middle" font-size="4.1" font-weight="bold" fill="#222" stroke="#222" stroke-width="0.18">24</text>
<line x1="251.52" y1="583.3" x2="251.52" y2="584.8" stroke="#3a3a3a" stroke-width="0.7"/>
<text x="251.52" y="588.9" text-anchor="middle" font-size="4.1" font-weight="bold" fill="#222" stroke="#222" stroke-width="0.18">30</text>
<line x1="261.94" y1="583.3" x2="261.94" y2="584.8" stroke="#3a3a3a" stroke-width="0.7"/>
<text x="261.94" y="588.9" text-anchor="middle" font-size="4.1" font-weight="bold" fill="#222" stroke="#222" stroke-width="0.18">36</text>
<line x1="272.36" y1="583.3" x2="272.36" y2="584.8" stroke="#3a3a3a" stroke-width="0.7"/>
<text x="272.36" y="588.9" text-anchor="middle" font-size="4.1" font-weight="bold" fill="#222" stroke="#222" stroke-width="0.18">42</text>
<line x1="282.78" y1="583.3" x2="282.78" y2="584.8" stroke="#3a3a3a" stroke-width="0.7"/>
<text x="282.78" y="588.9" text-anchor="middle" font-size="4.1" font-weight="bold" fill="#222" stroke="#222" stroke-width="0.18">49</text>
<line x1="293.2" y1="583.3" x2="293.2" y2="584.8" stroke="#3a3a3a" stroke-width="0.7"/>
<text x="293.2" y="588.9" text-anchor="middle" font-size="4.1" font-weight="bold" fill="#222" stroke="#222" stroke-width="0.18">63</text>
<line x1="303.62" y1="583.3" x2="303.62" y2="584.8" stroke="#3a3a3a" stroke-width="0.7"/>
<text x="303.62" y="588.9" text-anchor="middle" font-size="4.1" font-weight="bold" fill="#222" stroke="#222" stroke-width="0.18">83</text>
<text x="243.8" y="501.2" text-anchor="middle" style='font-family:"Liberation Sans", sans-serif;white-space:pre' font-size="5.15" font-weight="bold" fill="#111" stroke="#111" stroke-width="0.14">ARR16 (c37651.c0)</text>
<rect x="293.4" y="531.9" width="5.9" height="2.6" rx="0.8" fill="#e6e6e6" stroke="#222" stroke-width="1.05"/>
<text x="302.2" y="535" font-size="4.25" fill="#8c8c8c" stroke="#8c8c8c" stroke-width="0.2">LE</text>
<rect x="293.4" y="538.05" width="5.9" height="2.6" rx="0.8" fill="#a8a8a8" stroke="#222" stroke-width="1.05"/>
<text x="302.2" y="541.15" font-size="4.25" fill="#8c8c8c" stroke="#8c8c8c" stroke-width="0.2">JG</text>
<text x="0" y="0" transform="translate(173.6,542) rotate(-90)" text-anchor="middle" font-size="4.3" font-weight="bold" fill="#1a1a1a" stroke="#1a1a1a" stroke-width="0.26">Relative expression</text>
<text x="247.5" y="597.6" text-anchor="middle" font-size="4.35" font-weight="bold" fill="#1a1a1a" stroke="#1a1a1a" stroke-width="0.26">DAFB (d)</text>
</svg>
</body></html>
